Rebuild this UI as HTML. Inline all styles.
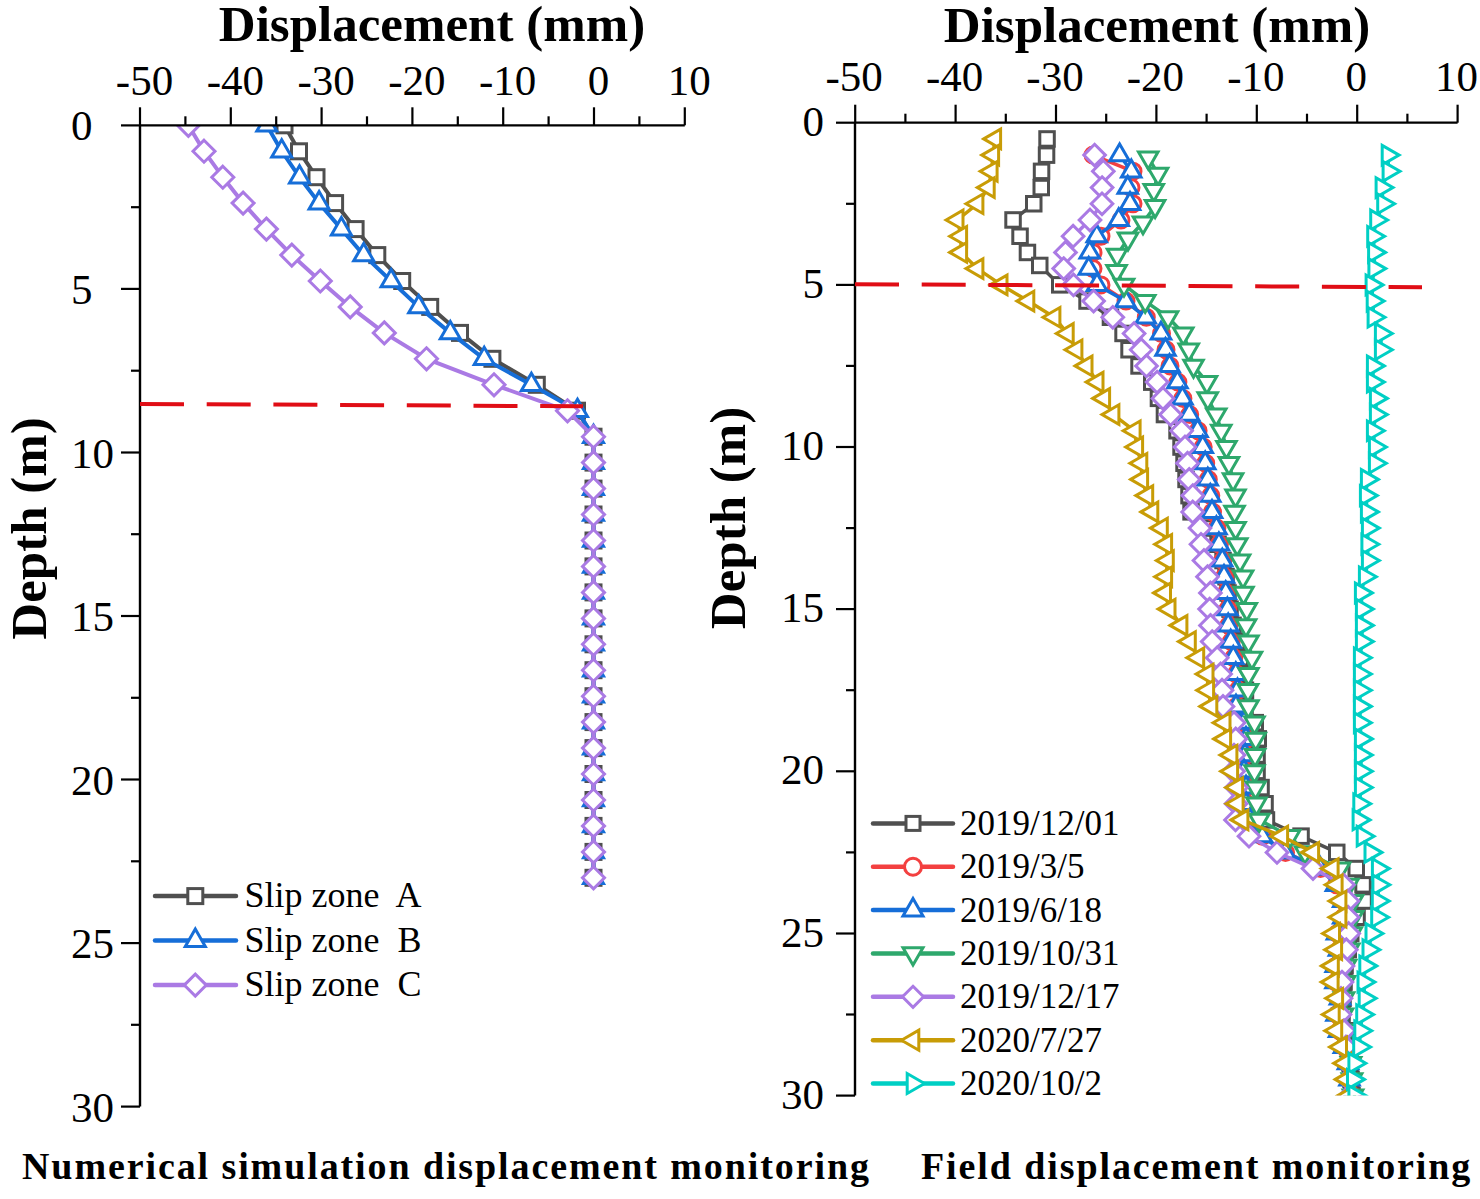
<!DOCTYPE html>
<html><head><meta charset="utf-8"><style>
html,body{margin:0;padding:0;background:#fff;}
svg{display:block;}
text{font-family:"Liberation Serif",serif;fill:#000;}
</style></head><body>
<svg width="1480" height="1199" viewBox="0 0 1480 1199">
<rect width="1480" height="1199" fill="#fff"/>
<defs><clipPath id="cl"><rect x="140" y="125.3" width="560" height="990"/></clipPath><clipPath id="cr"><rect x="855" y="122.7" width="610" height="972.9"/></clipPath></defs>
<g clip-path="url(#cl)"><path d="M284.5,125.3 L299.0,151.2 L316.5,177.2 L335.1,203.1 L355.6,229.1 L377.3,255.1 L402.2,281.0 L430.2,306.9 L460.0,332.9 L492.4,358.8 L536.8,384.8 L577.0,410.8 L593.5,436.7 L593.5,462.6 L593.5,488.6 L593.5,514.5 L593.5,540.5 L593.5,566.4 L593.5,592.4 L593.5,618.4 L593.5,644.3 L593.5,670.2 L593.5,696.2 L593.5,722.1 L593.5,748.1 L593.5,774.0 L593.5,800.0 L593.5,825.9 L593.5,851.9 L593.5,877.8" fill="none" stroke="#4f4f4f" stroke-width="4" stroke-linejoin="round" stroke-linecap="round"/>
<rect x="277.0" y="117.8" width="15" height="15" fill="#fff" stroke="#4f4f4f" stroke-width="3"/>
<rect x="291.5" y="143.8" width="15" height="15" fill="#fff" stroke="#4f4f4f" stroke-width="3"/>
<rect x="309.0" y="169.7" width="15" height="15" fill="#fff" stroke="#4f4f4f" stroke-width="3"/>
<rect x="327.6" y="195.6" width="15" height="15" fill="#fff" stroke="#4f4f4f" stroke-width="3"/>
<rect x="348.1" y="221.6" width="15" height="15" fill="#fff" stroke="#4f4f4f" stroke-width="3"/>
<rect x="369.8" y="247.6" width="15" height="15" fill="#fff" stroke="#4f4f4f" stroke-width="3"/>
<rect x="394.7" y="273.5" width="15" height="15" fill="#fff" stroke="#4f4f4f" stroke-width="3"/>
<rect x="422.7" y="299.4" width="15" height="15" fill="#fff" stroke="#4f4f4f" stroke-width="3"/>
<rect x="452.5" y="325.4" width="15" height="15" fill="#fff" stroke="#4f4f4f" stroke-width="3"/>
<rect x="484.9" y="351.3" width="15" height="15" fill="#fff" stroke="#4f4f4f" stroke-width="3"/>
<rect x="529.3" y="377.3" width="15" height="15" fill="#fff" stroke="#4f4f4f" stroke-width="3"/>
<rect x="569.5" y="403.2" width="15" height="15" fill="#fff" stroke="#4f4f4f" stroke-width="3"/>
<rect x="586.0" y="429.2" width="15" height="15" fill="#fff" stroke="#4f4f4f" stroke-width="3"/>
<rect x="586.0" y="455.1" width="15" height="15" fill="#fff" stroke="#4f4f4f" stroke-width="3"/>
<rect x="586.0" y="481.1" width="15" height="15" fill="#fff" stroke="#4f4f4f" stroke-width="3"/>
<rect x="586.0" y="507.0" width="15" height="15" fill="#fff" stroke="#4f4f4f" stroke-width="3"/>
<rect x="586.0" y="533.0" width="15" height="15" fill="#fff" stroke="#4f4f4f" stroke-width="3"/>
<rect x="586.0" y="558.9" width="15" height="15" fill="#fff" stroke="#4f4f4f" stroke-width="3"/>
<rect x="586.0" y="584.9" width="15" height="15" fill="#fff" stroke="#4f4f4f" stroke-width="3"/>
<rect x="586.0" y="610.9" width="15" height="15" fill="#fff" stroke="#4f4f4f" stroke-width="3"/>
<rect x="586.0" y="636.8" width="15" height="15" fill="#fff" stroke="#4f4f4f" stroke-width="3"/>
<rect x="586.0" y="662.7" width="15" height="15" fill="#fff" stroke="#4f4f4f" stroke-width="3"/>
<rect x="586.0" y="688.7" width="15" height="15" fill="#fff" stroke="#4f4f4f" stroke-width="3"/>
<rect x="586.0" y="714.6" width="15" height="15" fill="#fff" stroke="#4f4f4f" stroke-width="3"/>
<rect x="586.0" y="740.6" width="15" height="15" fill="#fff" stroke="#4f4f4f" stroke-width="3"/>
<rect x="586.0" y="766.5" width="15" height="15" fill="#fff" stroke="#4f4f4f" stroke-width="3"/>
<rect x="586.0" y="792.5" width="15" height="15" fill="#fff" stroke="#4f4f4f" stroke-width="3"/>
<rect x="586.0" y="818.4" width="15" height="15" fill="#fff" stroke="#4f4f4f" stroke-width="3"/>
<rect x="586.0" y="844.4" width="15" height="15" fill="#fff" stroke="#4f4f4f" stroke-width="3"/>
<rect x="586.0" y="870.3" width="15" height="15" fill="#fff" stroke="#4f4f4f" stroke-width="3"/>
<path d="M266.8,125.3 L281.7,151.2 L299.5,177.2 L319.1,203.1 L341.4,229.1 L363.7,255.1 L391.1,281.0 L418.7,306.9 L450.3,332.9 L484.2,358.8 L531.4,384.8 L577.5,410.8 L593.5,436.7 L593.5,462.6 L593.5,488.6 L593.5,514.5 L593.5,540.5 L593.5,566.4 L593.5,592.4 L593.5,618.4 L593.5,644.3 L593.5,670.2 L593.5,696.2 L593.5,722.1 L593.5,748.1 L593.5,774.0 L593.5,800.0 L593.5,825.9 L593.5,851.9 L593.5,877.8" fill="none" stroke="#166ed8" stroke-width="4" stroke-linejoin="round" stroke-linecap="round"/>
<polygon points="266.8,113.8 256.8,131.1 276.8,131.1" fill="#fff" stroke="#166ed8" stroke-width="3"/>
<polygon points="281.7,139.7 271.7,157.0 291.7,157.0" fill="#fff" stroke="#166ed8" stroke-width="3"/>
<polygon points="299.5,165.7 289.5,183.0 309.5,183.0" fill="#fff" stroke="#166ed8" stroke-width="3"/>
<polygon points="319.1,191.6 309.1,208.9 329.1,208.9" fill="#fff" stroke="#166ed8" stroke-width="3"/>
<polygon points="341.4,217.6 331.4,234.9 351.4,234.9" fill="#fff" stroke="#166ed8" stroke-width="3"/>
<polygon points="363.7,243.5 353.7,260.8 373.7,260.8" fill="#fff" stroke="#166ed8" stroke-width="3"/>
<polygon points="391.1,269.5 381.1,286.8 401.1,286.8" fill="#fff" stroke="#166ed8" stroke-width="3"/>
<polygon points="418.7,295.4 408.7,312.7 428.7,312.7" fill="#fff" stroke="#166ed8" stroke-width="3"/>
<polygon points="450.3,321.4 440.3,338.7 460.3,338.7" fill="#fff" stroke="#166ed8" stroke-width="3"/>
<polygon points="484.2,347.3 474.2,364.6 494.2,364.6" fill="#fff" stroke="#166ed8" stroke-width="3"/>
<polygon points="531.4,373.3 521.4,390.6 541.4,390.6" fill="#fff" stroke="#166ed8" stroke-width="3"/>
<polygon points="577.5,399.2 567.5,416.5 587.5,416.5" fill="#fff" stroke="#166ed8" stroke-width="3"/>
<polygon points="593.5,425.2 583.5,442.5 603.5,442.5" fill="#fff" stroke="#166ed8" stroke-width="3"/>
<polygon points="593.5,451.1 583.5,468.4 603.5,468.4" fill="#fff" stroke="#166ed8" stroke-width="3"/>
<polygon points="593.5,477.1 583.5,494.4 603.5,494.4" fill="#fff" stroke="#166ed8" stroke-width="3"/>
<polygon points="593.5,503.0 583.5,520.3 603.5,520.3" fill="#fff" stroke="#166ed8" stroke-width="3"/>
<polygon points="593.5,529.0 583.5,546.3 603.5,546.3" fill="#fff" stroke="#166ed8" stroke-width="3"/>
<polygon points="593.5,554.9 583.5,572.2 603.5,572.2" fill="#fff" stroke="#166ed8" stroke-width="3"/>
<polygon points="593.5,580.9 583.5,598.2 603.5,598.2" fill="#fff" stroke="#166ed8" stroke-width="3"/>
<polygon points="593.5,606.8 583.5,624.1 603.5,624.1" fill="#fff" stroke="#166ed8" stroke-width="3"/>
<polygon points="593.5,632.8 583.5,650.1 603.5,650.1" fill="#fff" stroke="#166ed8" stroke-width="3"/>
<polygon points="593.5,658.7 583.5,676.0 603.5,676.0" fill="#fff" stroke="#166ed8" stroke-width="3"/>
<polygon points="593.5,684.7 583.5,702.0 603.5,702.0" fill="#fff" stroke="#166ed8" stroke-width="3"/>
<polygon points="593.5,710.6 583.5,727.9 603.5,727.9" fill="#fff" stroke="#166ed8" stroke-width="3"/>
<polygon points="593.5,736.6 583.5,753.9 603.5,753.9" fill="#fff" stroke="#166ed8" stroke-width="3"/>
<polygon points="593.5,762.5 583.5,779.8 603.5,779.8" fill="#fff" stroke="#166ed8" stroke-width="3"/>
<polygon points="593.5,788.5 583.5,805.8 603.5,805.8" fill="#fff" stroke="#166ed8" stroke-width="3"/>
<polygon points="593.5,814.4 583.5,831.7 603.5,831.7" fill="#fff" stroke="#166ed8" stroke-width="3"/>
<polygon points="593.5,840.4 583.5,857.7 603.5,857.7" fill="#fff" stroke="#166ed8" stroke-width="3"/>
<polygon points="593.5,866.3 583.5,883.6 603.5,883.6" fill="#fff" stroke="#166ed8" stroke-width="3"/>
<path d="M188.4,125.3 L204.0,151.2 L222.8,177.2 L243.1,203.1 L266.4,229.1 L291.8,255.1 L320.3,281.0 L350.2,306.9 L384.3,332.9 L426.5,358.8 L494.0,384.8 L567.5,410.8 L593.5,436.7 L593.5,462.6 L593.5,488.6 L593.5,514.5 L593.5,540.5 L593.5,566.4 L593.5,592.4 L593.5,618.4 L593.5,644.3 L593.5,670.2 L593.5,696.2 L593.5,722.1 L593.5,748.1 L593.5,774.0 L593.5,800.0 L593.5,825.9 L593.5,851.9 L593.5,877.8" fill="none" stroke="#aa7ae4" stroke-width="4" stroke-linejoin="round" stroke-linecap="round"/>
<polygon points="188.4,114.3 199.4,125.3 188.4,136.3 177.4,125.3" fill="#fff" stroke="#aa7ae4" stroke-width="3"/>
<polygon points="204.0,140.2 215.0,151.2 204.0,162.2 193.0,151.2" fill="#fff" stroke="#aa7ae4" stroke-width="3"/>
<polygon points="222.8,166.2 233.8,177.2 222.8,188.2 211.8,177.2" fill="#fff" stroke="#aa7ae4" stroke-width="3"/>
<polygon points="243.1,192.1 254.1,203.1 243.1,214.1 232.1,203.1" fill="#fff" stroke="#aa7ae4" stroke-width="3"/>
<polygon points="266.4,218.1 277.4,229.1 266.4,240.1 255.4,229.1" fill="#fff" stroke="#aa7ae4" stroke-width="3"/>
<polygon points="291.8,244.1 302.8,255.1 291.8,266.1 280.8,255.1" fill="#fff" stroke="#aa7ae4" stroke-width="3"/>
<polygon points="320.3,270.0 331.3,281.0 320.3,292.0 309.3,281.0" fill="#fff" stroke="#aa7ae4" stroke-width="3"/>
<polygon points="350.2,295.9 361.2,306.9 350.2,317.9 339.2,306.9" fill="#fff" stroke="#aa7ae4" stroke-width="3"/>
<polygon points="384.3,321.9 395.3,332.9 384.3,343.9 373.3,332.9" fill="#fff" stroke="#aa7ae4" stroke-width="3"/>
<polygon points="426.5,347.8 437.5,358.8 426.5,369.8 415.5,358.8" fill="#fff" stroke="#aa7ae4" stroke-width="3"/>
<polygon points="494.0,373.8 505.0,384.8 494.0,395.8 483.0,384.8" fill="#fff" stroke="#aa7ae4" stroke-width="3"/>
<polygon points="567.5,399.8 578.5,410.8 567.5,421.8 556.5,410.8" fill="#fff" stroke="#aa7ae4" stroke-width="3"/>
<polygon points="593.5,425.7 604.5,436.7 593.5,447.7 582.5,436.7" fill="#fff" stroke="#aa7ae4" stroke-width="3"/>
<polygon points="593.5,451.6 604.5,462.6 593.5,473.6 582.5,462.6" fill="#fff" stroke="#aa7ae4" stroke-width="3"/>
<polygon points="593.5,477.6 604.5,488.6 593.5,499.6 582.5,488.6" fill="#fff" stroke="#aa7ae4" stroke-width="3"/>
<polygon points="593.5,503.5 604.5,514.5 593.5,525.5 582.5,514.5" fill="#fff" stroke="#aa7ae4" stroke-width="3"/>
<polygon points="593.5,529.5 604.5,540.5 593.5,551.5 582.5,540.5" fill="#fff" stroke="#aa7ae4" stroke-width="3"/>
<polygon points="593.5,555.4 604.5,566.4 593.5,577.4 582.5,566.4" fill="#fff" stroke="#aa7ae4" stroke-width="3"/>
<polygon points="593.5,581.4 604.5,592.4 593.5,603.4 582.5,592.4" fill="#fff" stroke="#aa7ae4" stroke-width="3"/>
<polygon points="593.5,607.4 604.5,618.4 593.5,629.4 582.5,618.4" fill="#fff" stroke="#aa7ae4" stroke-width="3"/>
<polygon points="593.5,633.3 604.5,644.3 593.5,655.3 582.5,644.3" fill="#fff" stroke="#aa7ae4" stroke-width="3"/>
<polygon points="593.5,659.2 604.5,670.2 593.5,681.2 582.5,670.2" fill="#fff" stroke="#aa7ae4" stroke-width="3"/>
<polygon points="593.5,685.2 604.5,696.2 593.5,707.2 582.5,696.2" fill="#fff" stroke="#aa7ae4" stroke-width="3"/>
<polygon points="593.5,711.1 604.5,722.1 593.5,733.1 582.5,722.1" fill="#fff" stroke="#aa7ae4" stroke-width="3"/>
<polygon points="593.5,737.1 604.5,748.1 593.5,759.1 582.5,748.1" fill="#fff" stroke="#aa7ae4" stroke-width="3"/>
<polygon points="593.5,763.0 604.5,774.0 593.5,785.0 582.5,774.0" fill="#fff" stroke="#aa7ae4" stroke-width="3"/>
<polygon points="593.5,789.0 604.5,800.0 593.5,811.0 582.5,800.0" fill="#fff" stroke="#aa7ae4" stroke-width="3"/>
<polygon points="593.5,814.9 604.5,825.9 593.5,836.9 582.5,825.9" fill="#fff" stroke="#aa7ae4" stroke-width="3"/>
<polygon points="593.5,840.9 604.5,851.9 593.5,862.9 582.5,851.9" fill="#fff" stroke="#aa7ae4" stroke-width="3"/>
<polygon points="593.5,866.8 604.5,877.8 593.5,888.8 582.5,877.8" fill="#fff" stroke="#aa7ae4" stroke-width="3"/></g>
<g clip-path="url(#cr)"><path d="M1047.0,138.9 L1046.6,155.1 L1041.6,171.3 L1041.3,187.6 L1033.8,203.8 L1013.0,220.0 L1020.0,236.2 L1027.5,252.4 L1039.8,265.5 L1059.7,284.9 L1087.0,301.1 L1110.5,317.3 L1123.0,333.5 L1129.0,349.7 L1139.0,365.9 L1151.7,382.1 L1158.5,398.4 L1164.4,414.6 L1177.0,430.8 L1181.0,447.0 L1184.0,463.2 L1186.0,479.4 L1189.0,495.6 L1191.0,511.9 L1205.0,528.1 L1218.0,544.3 L1223.0,560.5 L1226.0,576.7 L1228.0,592.9 L1230.0,609.1 L1233.0,625.4 L1236.7,641.6 L1240.3,657.8 L1243.8,674.0 L1245.5,690.2 L1245.0,706.4 L1255.3,722.7 L1258.2,738.9 L1257.0,755.1 L1257.0,771.3 L1261.0,787.5 L1265.0,803.7 L1266.4,819.9 L1301.0,836.2 L1336.8,852.4 L1356.2,868.6 L1363.0,884.8 L1364.0,901.0 L1357.0,917.2 L1350.7,933.5 L1348.3,949.7 L1345.0,965.9 L1344.0,982.1 L1343.0,998.3 L1342.0,1014.5 L1346.0,1030.7 L1348.0,1047.0 L1350.0,1063.2 L1351.0,1079.4 L1352.0,1095.6" fill="none" stroke="#4f4f4f" stroke-width="3.5" stroke-linejoin="round" stroke-linecap="round"/>
<rect x="1039.8" y="131.7" width="14.5" height="14.5" fill="#fff" stroke="#4f4f4f" stroke-width="3"/>
<rect x="1039.3" y="147.9" width="14.5" height="14.5" fill="#fff" stroke="#4f4f4f" stroke-width="3"/>
<rect x="1034.3" y="164.1" width="14.5" height="14.5" fill="#fff" stroke="#4f4f4f" stroke-width="3"/>
<rect x="1034.0" y="180.3" width="14.5" height="14.5" fill="#fff" stroke="#4f4f4f" stroke-width="3"/>
<rect x="1026.5" y="196.5" width="14.5" height="14.5" fill="#fff" stroke="#4f4f4f" stroke-width="3"/>
<rect x="1005.8" y="212.7" width="14.5" height="14.5" fill="#fff" stroke="#4f4f4f" stroke-width="3"/>
<rect x="1012.8" y="229.0" width="14.5" height="14.5" fill="#fff" stroke="#4f4f4f" stroke-width="3"/>
<rect x="1020.2" y="245.2" width="14.5" height="14.5" fill="#fff" stroke="#4f4f4f" stroke-width="3"/>
<rect x="1032.5" y="258.2" width="14.5" height="14.5" fill="#fff" stroke="#4f4f4f" stroke-width="3"/>
<rect x="1052.5" y="277.6" width="14.5" height="14.5" fill="#fff" stroke="#4f4f4f" stroke-width="3"/>
<rect x="1079.8" y="293.8" width="14.5" height="14.5" fill="#fff" stroke="#4f4f4f" stroke-width="3"/>
<rect x="1103.2" y="310.0" width="14.5" height="14.5" fill="#fff" stroke="#4f4f4f" stroke-width="3"/>
<rect x="1115.8" y="326.2" width="14.5" height="14.5" fill="#fff" stroke="#4f4f4f" stroke-width="3"/>
<rect x="1121.8" y="342.5" width="14.5" height="14.5" fill="#fff" stroke="#4f4f4f" stroke-width="3"/>
<rect x="1131.8" y="358.7" width="14.5" height="14.5" fill="#fff" stroke="#4f4f4f" stroke-width="3"/>
<rect x="1144.5" y="374.9" width="14.5" height="14.5" fill="#fff" stroke="#4f4f4f" stroke-width="3"/>
<rect x="1151.2" y="391.1" width="14.5" height="14.5" fill="#fff" stroke="#4f4f4f" stroke-width="3"/>
<rect x="1157.2" y="407.3" width="14.5" height="14.5" fill="#fff" stroke="#4f4f4f" stroke-width="3"/>
<rect x="1169.8" y="423.5" width="14.5" height="14.5" fill="#fff" stroke="#4f4f4f" stroke-width="3"/>
<rect x="1173.8" y="439.8" width="14.5" height="14.5" fill="#fff" stroke="#4f4f4f" stroke-width="3"/>
<rect x="1176.8" y="456.0" width="14.5" height="14.5" fill="#fff" stroke="#4f4f4f" stroke-width="3"/>
<rect x="1178.8" y="472.2" width="14.5" height="14.5" fill="#fff" stroke="#4f4f4f" stroke-width="3"/>
<rect x="1181.8" y="488.4" width="14.5" height="14.5" fill="#fff" stroke="#4f4f4f" stroke-width="3"/>
<rect x="1183.8" y="504.6" width="14.5" height="14.5" fill="#fff" stroke="#4f4f4f" stroke-width="3"/>
<rect x="1197.8" y="520.8" width="14.5" height="14.5" fill="#fff" stroke="#4f4f4f" stroke-width="3"/>
<rect x="1210.8" y="537.0" width="14.5" height="14.5" fill="#fff" stroke="#4f4f4f" stroke-width="3"/>
<rect x="1215.8" y="553.3" width="14.5" height="14.5" fill="#fff" stroke="#4f4f4f" stroke-width="3"/>
<rect x="1218.8" y="569.5" width="14.5" height="14.5" fill="#fff" stroke="#4f4f4f" stroke-width="3"/>
<rect x="1220.8" y="585.7" width="14.5" height="14.5" fill="#fff" stroke="#4f4f4f" stroke-width="3"/>
<rect x="1222.8" y="601.9" width="14.5" height="14.5" fill="#fff" stroke="#4f4f4f" stroke-width="3"/>
<rect x="1225.8" y="618.1" width="14.5" height="14.5" fill="#fff" stroke="#4f4f4f" stroke-width="3"/>
<rect x="1229.5" y="634.3" width="14.5" height="14.5" fill="#fff" stroke="#4f4f4f" stroke-width="3"/>
<rect x="1233.0" y="650.5" width="14.5" height="14.5" fill="#fff" stroke="#4f4f4f" stroke-width="3"/>
<rect x="1236.5" y="666.8" width="14.5" height="14.5" fill="#fff" stroke="#4f4f4f" stroke-width="3"/>
<rect x="1238.2" y="683.0" width="14.5" height="14.5" fill="#fff" stroke="#4f4f4f" stroke-width="3"/>
<rect x="1237.8" y="699.2" width="14.5" height="14.5" fill="#fff" stroke="#4f4f4f" stroke-width="3"/>
<rect x="1248.0" y="715.4" width="14.5" height="14.5" fill="#fff" stroke="#4f4f4f" stroke-width="3"/>
<rect x="1251.0" y="731.6" width="14.5" height="14.5" fill="#fff" stroke="#4f4f4f" stroke-width="3"/>
<rect x="1249.8" y="747.8" width="14.5" height="14.5" fill="#fff" stroke="#4f4f4f" stroke-width="3"/>
<rect x="1249.8" y="764.1" width="14.5" height="14.5" fill="#fff" stroke="#4f4f4f" stroke-width="3"/>
<rect x="1253.8" y="780.3" width="14.5" height="14.5" fill="#fff" stroke="#4f4f4f" stroke-width="3"/>
<rect x="1257.8" y="796.5" width="14.5" height="14.5" fill="#fff" stroke="#4f4f4f" stroke-width="3"/>
<rect x="1259.2" y="812.7" width="14.5" height="14.5" fill="#fff" stroke="#4f4f4f" stroke-width="3"/>
<rect x="1293.8" y="828.9" width="14.5" height="14.5" fill="#fff" stroke="#4f4f4f" stroke-width="3"/>
<rect x="1329.5" y="845.1" width="14.5" height="14.5" fill="#fff" stroke="#4f4f4f" stroke-width="3"/>
<rect x="1349.0" y="861.3" width="14.5" height="14.5" fill="#fff" stroke="#4f4f4f" stroke-width="3"/>
<rect x="1355.8" y="877.6" width="14.5" height="14.5" fill="#fff" stroke="#4f4f4f" stroke-width="3"/>
<rect x="1356.8" y="893.8" width="14.5" height="14.5" fill="#fff" stroke="#4f4f4f" stroke-width="3"/>
<rect x="1349.8" y="910.0" width="14.5" height="14.5" fill="#fff" stroke="#4f4f4f" stroke-width="3"/>
<rect x="1343.5" y="926.2" width="14.5" height="14.5" fill="#fff" stroke="#4f4f4f" stroke-width="3"/>
<rect x="1341.0" y="942.4" width="14.5" height="14.5" fill="#fff" stroke="#4f4f4f" stroke-width="3"/>
<rect x="1337.8" y="958.6" width="14.5" height="14.5" fill="#fff" stroke="#4f4f4f" stroke-width="3"/>
<rect x="1336.8" y="974.8" width="14.5" height="14.5" fill="#fff" stroke="#4f4f4f" stroke-width="3"/>
<rect x="1335.8" y="991.1" width="14.5" height="14.5" fill="#fff" stroke="#4f4f4f" stroke-width="3"/>
<rect x="1334.8" y="1007.3" width="14.5" height="14.5" fill="#fff" stroke="#4f4f4f" stroke-width="3"/>
<rect x="1338.8" y="1023.5" width="14.5" height="14.5" fill="#fff" stroke="#4f4f4f" stroke-width="3"/>
<rect x="1340.8" y="1039.7" width="14.5" height="14.5" fill="#fff" stroke="#4f4f4f" stroke-width="3"/>
<rect x="1342.8" y="1055.9" width="14.5" height="14.5" fill="#fff" stroke="#4f4f4f" stroke-width="3"/>
<rect x="1343.8" y="1072.1" width="14.5" height="14.5" fill="#fff" stroke="#4f4f4f" stroke-width="3"/>
<rect x="1344.8" y="1088.3" width="14.5" height="14.5" fill="#fff" stroke="#4f4f4f" stroke-width="3"/>
<path d="M1093.0,155.1 L1133.0,171.3 L1131.0,187.6 L1133.0,203.8 L1121.0,220.0 L1101.0,236.2 L1093.0,252.4 L1093.0,268.6 L1101.0,284.9 L1126.0,301.1 L1146.3,317.3 L1161.5,333.5 L1166.0,349.7 L1170.0,365.9 L1177.9,382.1 L1182.9,398.4 L1189.7,414.6 L1198.1,430.8 L1203.2,447.0 L1205.7,463.2 L1208.3,479.4 L1210.8,495.6 L1212.5,511.9 L1216.9,528.1 L1219.4,544.3 L1222.8,560.5 L1224.5,576.7 L1226.2,592.9 L1227.9,609.1 L1228.7,625.4 L1231.2,641.6 L1233.8,657.8 L1236.3,674.0 L1238.0,690.2 L1236.5,706.4 L1244.5,722.7 L1246.5,738.9 L1245.5,755.1 L1244.5,771.3 L1246.5,787.5 L1246.5,803.7 L1250.5,819.9 L1262.5,836.2 L1285.5,852.4 L1320.5,868.6 L1336.5,884.8 L1343.8,901.0 L1343.8,917.2 L1337.4,933.5 L1339.5,949.7 L1336.2,965.9 L1336.0,982.1 L1340.5,998.3 L1337.1,1014.5 L1339.6,1030.7 L1344.4,1047.0 L1348.5,1063.2 L1350.0,1079.4 L1352.5,1095.6" fill="none" stroke="#f34040" stroke-width="3.5" stroke-linejoin="round" stroke-linecap="round"/>
<circle cx="1093.0" cy="155.1" r="8" fill="#fff" stroke="#f34040" stroke-width="3"/>
<circle cx="1133.0" cy="171.3" r="8" fill="#fff" stroke="#f34040" stroke-width="3"/>
<circle cx="1131.0" cy="187.6" r="8" fill="#fff" stroke="#f34040" stroke-width="3"/>
<circle cx="1133.0" cy="203.8" r="8" fill="#fff" stroke="#f34040" stroke-width="3"/>
<circle cx="1121.0" cy="220.0" r="8" fill="#fff" stroke="#f34040" stroke-width="3"/>
<circle cx="1101.0" cy="236.2" r="8" fill="#fff" stroke="#f34040" stroke-width="3"/>
<circle cx="1093.0" cy="252.4" r="8" fill="#fff" stroke="#f34040" stroke-width="3"/>
<circle cx="1093.0" cy="268.6" r="8" fill="#fff" stroke="#f34040" stroke-width="3"/>
<circle cx="1101.0" cy="284.9" r="8" fill="#fff" stroke="#f34040" stroke-width="3"/>
<circle cx="1126.0" cy="301.1" r="8" fill="#fff" stroke="#f34040" stroke-width="3"/>
<circle cx="1146.3" cy="317.3" r="8" fill="#fff" stroke="#f34040" stroke-width="3"/>
<circle cx="1161.5" cy="333.5" r="8" fill="#fff" stroke="#f34040" stroke-width="3"/>
<circle cx="1166.0" cy="349.7" r="8" fill="#fff" stroke="#f34040" stroke-width="3"/>
<circle cx="1170.0" cy="365.9" r="8" fill="#fff" stroke="#f34040" stroke-width="3"/>
<circle cx="1177.9" cy="382.1" r="8" fill="#fff" stroke="#f34040" stroke-width="3"/>
<circle cx="1182.9" cy="398.4" r="8" fill="#fff" stroke="#f34040" stroke-width="3"/>
<circle cx="1189.7" cy="414.6" r="8" fill="#fff" stroke="#f34040" stroke-width="3"/>
<circle cx="1198.1" cy="430.8" r="8" fill="#fff" stroke="#f34040" stroke-width="3"/>
<circle cx="1203.2" cy="447.0" r="8" fill="#fff" stroke="#f34040" stroke-width="3"/>
<circle cx="1205.7" cy="463.2" r="8" fill="#fff" stroke="#f34040" stroke-width="3"/>
<circle cx="1208.3" cy="479.4" r="8" fill="#fff" stroke="#f34040" stroke-width="3"/>
<circle cx="1210.8" cy="495.6" r="8" fill="#fff" stroke="#f34040" stroke-width="3"/>
<circle cx="1212.5" cy="511.9" r="8" fill="#fff" stroke="#f34040" stroke-width="3"/>
<circle cx="1216.9" cy="528.1" r="8" fill="#fff" stroke="#f34040" stroke-width="3"/>
<circle cx="1219.4" cy="544.3" r="8" fill="#fff" stroke="#f34040" stroke-width="3"/>
<circle cx="1222.8" cy="560.5" r="8" fill="#fff" stroke="#f34040" stroke-width="3"/>
<circle cx="1224.5" cy="576.7" r="8" fill="#fff" stroke="#f34040" stroke-width="3"/>
<circle cx="1226.2" cy="592.9" r="8" fill="#fff" stroke="#f34040" stroke-width="3"/>
<circle cx="1227.9" cy="609.1" r="8" fill="#fff" stroke="#f34040" stroke-width="3"/>
<circle cx="1228.7" cy="625.4" r="8" fill="#fff" stroke="#f34040" stroke-width="3"/>
<circle cx="1231.2" cy="641.6" r="8" fill="#fff" stroke="#f34040" stroke-width="3"/>
<circle cx="1233.8" cy="657.8" r="8" fill="#fff" stroke="#f34040" stroke-width="3"/>
<circle cx="1236.3" cy="674.0" r="8" fill="#fff" stroke="#f34040" stroke-width="3"/>
<circle cx="1238.0" cy="690.2" r="8" fill="#fff" stroke="#f34040" stroke-width="3"/>
<circle cx="1236.5" cy="706.4" r="8" fill="#fff" stroke="#f34040" stroke-width="3"/>
<circle cx="1244.5" cy="722.7" r="8" fill="#fff" stroke="#f34040" stroke-width="3"/>
<circle cx="1246.5" cy="738.9" r="8" fill="#fff" stroke="#f34040" stroke-width="3"/>
<circle cx="1245.5" cy="755.1" r="8" fill="#fff" stroke="#f34040" stroke-width="3"/>
<circle cx="1244.5" cy="771.3" r="8" fill="#fff" stroke="#f34040" stroke-width="3"/>
<circle cx="1246.5" cy="787.5" r="8" fill="#fff" stroke="#f34040" stroke-width="3"/>
<circle cx="1246.5" cy="803.7" r="8" fill="#fff" stroke="#f34040" stroke-width="3"/>
<circle cx="1250.5" cy="819.9" r="8" fill="#fff" stroke="#f34040" stroke-width="3"/>
<circle cx="1262.5" cy="836.2" r="8" fill="#fff" stroke="#f34040" stroke-width="3"/>
<circle cx="1285.5" cy="852.4" r="8" fill="#fff" stroke="#f34040" stroke-width="3"/>
<circle cx="1320.5" cy="868.6" r="8" fill="#fff" stroke="#f34040" stroke-width="3"/>
<circle cx="1336.5" cy="884.8" r="8" fill="#fff" stroke="#f34040" stroke-width="3"/>
<circle cx="1343.8" cy="901.0" r="8" fill="#fff" stroke="#f34040" stroke-width="3"/>
<circle cx="1343.8" cy="917.2" r="8" fill="#fff" stroke="#f34040" stroke-width="3"/>
<circle cx="1337.4" cy="933.5" r="8" fill="#fff" stroke="#f34040" stroke-width="3"/>
<circle cx="1339.5" cy="949.7" r="8" fill="#fff" stroke="#f34040" stroke-width="3"/>
<circle cx="1336.2" cy="965.9" r="8" fill="#fff" stroke="#f34040" stroke-width="3"/>
<circle cx="1336.0" cy="982.1" r="8" fill="#fff" stroke="#f34040" stroke-width="3"/>
<circle cx="1340.5" cy="998.3" r="8" fill="#fff" stroke="#f34040" stroke-width="3"/>
<circle cx="1337.1" cy="1014.5" r="8" fill="#fff" stroke="#f34040" stroke-width="3"/>
<circle cx="1339.6" cy="1030.7" r="8" fill="#fff" stroke="#f34040" stroke-width="3"/>
<circle cx="1344.4" cy="1047.0" r="8" fill="#fff" stroke="#f34040" stroke-width="3"/>
<circle cx="1348.5" cy="1063.2" r="8" fill="#fff" stroke="#f34040" stroke-width="3"/>
<circle cx="1350.0" cy="1079.4" r="8" fill="#fff" stroke="#f34040" stroke-width="3"/>
<circle cx="1352.5" cy="1095.6" r="8" fill="#fff" stroke="#f34040" stroke-width="3"/>
<path d="M1119.6,155.1 L1131.3,171.3 L1127.7,187.6 L1130.0,203.8 L1118.7,220.0 L1096.8,236.2 L1089.7,252.4 L1088.7,268.6 L1097.0,284.9 L1125.5,301.1 L1145.8,317.3 L1161.0,333.5 L1165.5,349.7 L1169.5,365.9 L1177.4,382.1 L1182.4,398.4 L1189.2,414.6 L1197.6,430.8 L1202.7,447.0 L1205.2,463.2 L1207.8,479.4 L1210.3,495.6 L1212.0,511.9 L1216.4,528.1 L1218.9,544.3 L1222.3,560.5 L1224.0,576.7 L1225.7,592.9 L1227.4,609.1 L1228.2,625.4 L1230.7,641.6 L1233.3,657.8 L1235.8,674.0 L1237.5,690.2 L1236.0,706.4 L1244.0,722.7 L1246.0,738.9 L1245.0,755.1 L1244.0,771.3 L1246.0,787.5 L1246.0,803.7 L1250.0,819.9 L1262.0,836.2 L1285.0,852.4 L1320.0,868.6 L1336.0,884.8 L1343.3,901.0 L1343.3,917.2 L1336.9,933.5 L1339.0,949.7 L1335.7,965.9 L1335.5,982.1 L1340.0,998.3 L1336.6,1014.5 L1339.1,1030.7 L1343.9,1047.0 L1348.0,1063.2 L1349.5,1079.4 L1352.0,1095.6" fill="none" stroke="#166ed8" stroke-width="3.5" stroke-linejoin="round" stroke-linecap="round"/>
<polygon points="1119.6,143.9 1109.8,160.8 1129.3,160.8" fill="#fff" stroke="#166ed8" stroke-width="3"/>
<polygon points="1131.3,160.1 1121.5,177.0 1141.0,177.0" fill="#fff" stroke="#166ed8" stroke-width="3"/>
<polygon points="1127.7,176.3 1118.0,193.2 1137.5,193.2" fill="#fff" stroke="#166ed8" stroke-width="3"/>
<polygon points="1130.0,192.5 1120.2,209.4 1139.8,209.4" fill="#fff" stroke="#166ed8" stroke-width="3"/>
<polygon points="1118.7,208.7 1109.0,225.6 1128.5,225.6" fill="#fff" stroke="#166ed8" stroke-width="3"/>
<polygon points="1096.8,224.9 1087.0,241.8 1106.5,241.8" fill="#fff" stroke="#166ed8" stroke-width="3"/>
<polygon points="1089.7,241.2 1080.0,258.0 1099.5,258.0" fill="#fff" stroke="#166ed8" stroke-width="3"/>
<polygon points="1088.7,257.4 1079.0,274.3 1098.5,274.3" fill="#fff" stroke="#166ed8" stroke-width="3"/>
<polygon points="1097.0,273.6 1087.2,290.5 1106.8,290.5" fill="#fff" stroke="#166ed8" stroke-width="3"/>
<polygon points="1125.5,289.8 1115.8,306.7 1135.2,306.7" fill="#fff" stroke="#166ed8" stroke-width="3"/>
<polygon points="1145.8,306.0 1136.0,322.9 1155.5,322.9" fill="#fff" stroke="#166ed8" stroke-width="3"/>
<polygon points="1161.0,322.2 1151.2,339.1 1170.8,339.1" fill="#fff" stroke="#166ed8" stroke-width="3"/>
<polygon points="1165.5,338.5 1155.8,355.3 1175.2,355.3" fill="#fff" stroke="#166ed8" stroke-width="3"/>
<polygon points="1169.5,354.7 1159.8,371.6 1179.2,371.6" fill="#fff" stroke="#166ed8" stroke-width="3"/>
<polygon points="1177.4,370.9 1167.7,387.8 1187.2,387.8" fill="#fff" stroke="#166ed8" stroke-width="3"/>
<polygon points="1182.4,387.1 1172.7,404.0 1192.2,404.0" fill="#fff" stroke="#166ed8" stroke-width="3"/>
<polygon points="1189.2,403.3 1179.5,420.2 1199.0,420.2" fill="#fff" stroke="#166ed8" stroke-width="3"/>
<polygon points="1197.6,419.5 1187.8,436.4 1207.3,436.4" fill="#fff" stroke="#166ed8" stroke-width="3"/>
<polygon points="1202.7,435.7 1193.0,452.6 1212.5,452.6" fill="#fff" stroke="#166ed8" stroke-width="3"/>
<polygon points="1205.2,452.0 1195.5,468.8 1215.0,468.8" fill="#fff" stroke="#166ed8" stroke-width="3"/>
<polygon points="1207.8,468.2 1198.0,485.1 1217.5,485.1" fill="#fff" stroke="#166ed8" stroke-width="3"/>
<polygon points="1210.3,484.4 1200.5,501.3 1220.0,501.3" fill="#fff" stroke="#166ed8" stroke-width="3"/>
<polygon points="1212.0,500.6 1202.2,517.5 1221.8,517.5" fill="#fff" stroke="#166ed8" stroke-width="3"/>
<polygon points="1216.4,516.8 1206.7,533.7 1226.2,533.7" fill="#fff" stroke="#166ed8" stroke-width="3"/>
<polygon points="1218.9,533.0 1209.2,549.9 1228.7,549.9" fill="#fff" stroke="#166ed8" stroke-width="3"/>
<polygon points="1222.3,549.2 1212.5,566.1 1232.0,566.1" fill="#fff" stroke="#166ed8" stroke-width="3"/>
<polygon points="1224.0,565.5 1214.2,582.3 1233.8,582.3" fill="#fff" stroke="#166ed8" stroke-width="3"/>
<polygon points="1225.7,581.7 1216.0,598.6 1235.5,598.6" fill="#fff" stroke="#166ed8" stroke-width="3"/>
<polygon points="1227.4,597.9 1217.7,614.8 1237.2,614.8" fill="#fff" stroke="#166ed8" stroke-width="3"/>
<polygon points="1228.2,614.1 1218.5,631.0 1238.0,631.0" fill="#fff" stroke="#166ed8" stroke-width="3"/>
<polygon points="1230.7,630.3 1221.0,647.2 1240.5,647.2" fill="#fff" stroke="#166ed8" stroke-width="3"/>
<polygon points="1233.3,646.5 1223.5,663.4 1243.0,663.4" fill="#fff" stroke="#166ed8" stroke-width="3"/>
<polygon points="1235.8,662.8 1226.0,679.6 1245.5,679.6" fill="#fff" stroke="#166ed8" stroke-width="3"/>
<polygon points="1237.5,679.0 1227.8,695.9 1247.2,695.9" fill="#fff" stroke="#166ed8" stroke-width="3"/>
<polygon points="1236.0,695.2 1226.2,712.1 1245.8,712.1" fill="#fff" stroke="#166ed8" stroke-width="3"/>
<polygon points="1244.0,711.4 1234.2,728.3 1253.8,728.3" fill="#fff" stroke="#166ed8" stroke-width="3"/>
<polygon points="1246.0,727.6 1236.2,744.5 1255.8,744.5" fill="#fff" stroke="#166ed8" stroke-width="3"/>
<polygon points="1245.0,743.8 1235.2,760.7 1254.8,760.7" fill="#fff" stroke="#166ed8" stroke-width="3"/>
<polygon points="1244.0,760.0 1234.2,776.9 1253.8,776.9" fill="#fff" stroke="#166ed8" stroke-width="3"/>
<polygon points="1246.0,776.3 1236.2,793.1 1255.8,793.1" fill="#fff" stroke="#166ed8" stroke-width="3"/>
<polygon points="1246.0,792.5 1236.2,809.4 1255.8,809.4" fill="#fff" stroke="#166ed8" stroke-width="3"/>
<polygon points="1250.0,808.7 1240.2,825.6 1259.8,825.6" fill="#fff" stroke="#166ed8" stroke-width="3"/>
<polygon points="1262.0,824.9 1252.2,841.8 1271.8,841.8" fill="#fff" stroke="#166ed8" stroke-width="3"/>
<polygon points="1285.0,841.1 1275.2,858.0 1294.8,858.0" fill="#fff" stroke="#166ed8" stroke-width="3"/>
<polygon points="1320.0,857.3 1310.2,874.2 1329.8,874.2" fill="#fff" stroke="#166ed8" stroke-width="3"/>
<polygon points="1336.0,873.5 1326.2,890.4 1345.8,890.4" fill="#fff" stroke="#166ed8" stroke-width="3"/>
<polygon points="1343.3,889.8 1333.5,906.6 1353.0,906.6" fill="#fff" stroke="#166ed8" stroke-width="3"/>
<polygon points="1343.3,906.0 1333.5,922.9 1353.0,922.9" fill="#fff" stroke="#166ed8" stroke-width="3"/>
<polygon points="1336.9,922.2 1327.2,939.1 1346.7,939.1" fill="#fff" stroke="#166ed8" stroke-width="3"/>
<polygon points="1339.0,938.4 1329.2,955.3 1348.8,955.3" fill="#fff" stroke="#166ed8" stroke-width="3"/>
<polygon points="1335.7,954.6 1326.0,971.5 1345.5,971.5" fill="#fff" stroke="#166ed8" stroke-width="3"/>
<polygon points="1335.5,970.8 1325.8,987.7 1345.2,987.7" fill="#fff" stroke="#166ed8" stroke-width="3"/>
<polygon points="1340.0,987.1 1330.2,1003.9 1349.8,1003.9" fill="#fff" stroke="#166ed8" stroke-width="3"/>
<polygon points="1336.6,1003.3 1326.8,1020.2 1346.3,1020.2" fill="#fff" stroke="#166ed8" stroke-width="3"/>
<polygon points="1339.1,1019.5 1329.3,1036.4 1348.8,1036.4" fill="#fff" stroke="#166ed8" stroke-width="3"/>
<polygon points="1343.9,1035.7 1334.2,1052.6 1353.7,1052.6" fill="#fff" stroke="#166ed8" stroke-width="3"/>
<polygon points="1348.0,1051.9 1338.2,1068.8 1357.8,1068.8" fill="#fff" stroke="#166ed8" stroke-width="3"/>
<polygon points="1349.5,1068.1 1339.8,1085.0 1359.2,1085.0" fill="#fff" stroke="#166ed8" stroke-width="3"/>
<polygon points="1352.0,1084.3 1342.2,1101.2 1361.8,1101.2" fill="#fff" stroke="#166ed8" stroke-width="3"/>
<path d="M1148.3,157.6 L1158.1,173.8 L1153.8,190.1 L1155.1,206.3 L1143.0,222.5 L1128.0,238.7 L1117.1,254.9 L1116.6,271.1 L1124.0,284.9 L1145.2,301.1 L1168.1,317.3 L1183.3,333.5 L1188.8,349.7 L1193.5,365.9 L1206.9,382.1 L1207.8,398.4 L1216.2,414.6 L1221.3,430.8 L1226.4,447.0 L1228.9,463.2 L1233.1,479.4 L1235.5,495.6 L1234.6,511.9 L1235.6,528.1 L1237.2,544.3 L1240.0,560.5 L1243.0,576.7 L1243.5,592.9 L1246.8,609.1 L1246.0,625.4 L1248.5,641.6 L1251.9,657.8 L1248.5,674.0 L1248.0,690.2 L1248.4,706.4 L1254.5,722.7 L1255.7,738.9 L1255.1,755.1 L1254.5,771.3 L1255.5,787.5 L1256.5,803.7 L1259.2,819.9 L1290.0,836.2 L1305.0,852.4 L1340.0,868.6 L1348.4,884.8 L1353.0,901.0 L1353.0,917.2 L1351.7,933.5 L1349.3,949.7 L1346.0,965.9 L1345.0,982.1 L1344.0,998.3 L1343.0,1014.5 L1347.0,1030.7 L1349.0,1047.0 L1351.0,1063.2 L1352.0,1079.4 L1353.0,1095.6" fill="none" stroke="#2ea86c" stroke-width="3.5" stroke-linejoin="round" stroke-linecap="round"/>
<polygon points="1148.3,168.9 1138.5,152.0 1158.0,152.0" fill="#fff" stroke="#2ea86c" stroke-width="3"/>
<polygon points="1158.1,185.1 1148.3,168.2 1167.8,168.2" fill="#fff" stroke="#2ea86c" stroke-width="3"/>
<polygon points="1153.8,201.3 1144.0,184.4 1163.5,184.4" fill="#fff" stroke="#2ea86c" stroke-width="3"/>
<polygon points="1155.1,217.5 1145.3,200.6 1164.8,200.6" fill="#fff" stroke="#2ea86c" stroke-width="3"/>
<polygon points="1143.0,233.7 1133.2,216.9 1152.8,216.9" fill="#fff" stroke="#2ea86c" stroke-width="3"/>
<polygon points="1128.0,250.0 1118.2,233.1 1137.8,233.1" fill="#fff" stroke="#2ea86c" stroke-width="3"/>
<polygon points="1117.1,266.2 1107.3,249.3 1126.8,249.3" fill="#fff" stroke="#2ea86c" stroke-width="3"/>
<polygon points="1116.6,282.4 1106.8,265.5 1126.3,265.5" fill="#fff" stroke="#2ea86c" stroke-width="3"/>
<polygon points="1124.0,296.1 1114.2,279.2 1133.8,279.2" fill="#fff" stroke="#2ea86c" stroke-width="3"/>
<polygon points="1145.2,312.3 1135.5,295.4 1155.0,295.4" fill="#fff" stroke="#2ea86c" stroke-width="3"/>
<polygon points="1168.1,328.5 1158.3,311.7 1177.8,311.7" fill="#fff" stroke="#2ea86c" stroke-width="3"/>
<polygon points="1183.3,344.8 1173.5,327.9 1193.0,327.9" fill="#fff" stroke="#2ea86c" stroke-width="3"/>
<polygon points="1188.8,361.0 1179.0,344.1 1198.5,344.1" fill="#fff" stroke="#2ea86c" stroke-width="3"/>
<polygon points="1193.5,377.2 1183.8,360.3 1203.2,360.3" fill="#fff" stroke="#2ea86c" stroke-width="3"/>
<polygon points="1206.9,393.4 1197.2,376.5 1216.7,376.5" fill="#fff" stroke="#2ea86c" stroke-width="3"/>
<polygon points="1207.8,409.6 1198.0,392.7 1217.5,392.7" fill="#fff" stroke="#2ea86c" stroke-width="3"/>
<polygon points="1216.2,425.8 1206.5,408.9 1226.0,408.9" fill="#fff" stroke="#2ea86c" stroke-width="3"/>
<polygon points="1221.3,442.0 1211.5,425.2 1231.0,425.2" fill="#fff" stroke="#2ea86c" stroke-width="3"/>
<polygon points="1226.4,458.3 1216.7,441.4 1236.2,441.4" fill="#fff" stroke="#2ea86c" stroke-width="3"/>
<polygon points="1228.9,474.5 1219.2,457.6 1238.7,457.6" fill="#fff" stroke="#2ea86c" stroke-width="3"/>
<polygon points="1233.1,490.7 1223.3,473.8 1242.8,473.8" fill="#fff" stroke="#2ea86c" stroke-width="3"/>
<polygon points="1235.5,506.9 1225.8,490.0 1245.2,490.0" fill="#fff" stroke="#2ea86c" stroke-width="3"/>
<polygon points="1234.6,523.1 1224.8,506.2 1244.3,506.2" fill="#fff" stroke="#2ea86c" stroke-width="3"/>
<polygon points="1235.6,539.3 1225.8,522.4 1245.3,522.4" fill="#fff" stroke="#2ea86c" stroke-width="3"/>
<polygon points="1237.2,555.5 1227.5,538.7 1247.0,538.7" fill="#fff" stroke="#2ea86c" stroke-width="3"/>
<polygon points="1240.0,571.8 1230.2,554.9 1249.8,554.9" fill="#fff" stroke="#2ea86c" stroke-width="3"/>
<polygon points="1243.0,588.0 1233.2,571.1 1252.8,571.1" fill="#fff" stroke="#2ea86c" stroke-width="3"/>
<polygon points="1243.5,604.2 1233.8,587.3 1253.2,587.3" fill="#fff" stroke="#2ea86c" stroke-width="3"/>
<polygon points="1246.8,620.4 1237.0,603.5 1256.5,603.5" fill="#fff" stroke="#2ea86c" stroke-width="3"/>
<polygon points="1246.0,636.6 1236.2,619.7 1255.8,619.7" fill="#fff" stroke="#2ea86c" stroke-width="3"/>
<polygon points="1248.5,652.8 1238.8,636.0 1258.2,636.0" fill="#fff" stroke="#2ea86c" stroke-width="3"/>
<polygon points="1251.9,669.1 1242.2,652.2 1261.7,652.2" fill="#fff" stroke="#2ea86c" stroke-width="3"/>
<polygon points="1248.5,685.3 1238.8,668.4 1258.2,668.4" fill="#fff" stroke="#2ea86c" stroke-width="3"/>
<polygon points="1248.0,701.5 1238.2,684.6 1257.8,684.6" fill="#fff" stroke="#2ea86c" stroke-width="3"/>
<polygon points="1248.4,717.7 1238.7,700.8 1258.2,700.8" fill="#fff" stroke="#2ea86c" stroke-width="3"/>
<polygon points="1254.5,733.9 1244.8,717.0 1264.2,717.0" fill="#fff" stroke="#2ea86c" stroke-width="3"/>
<polygon points="1255.7,750.1 1246.0,733.2 1265.5,733.2" fill="#fff" stroke="#2ea86c" stroke-width="3"/>
<polygon points="1255.1,766.3 1245.3,749.5 1264.8,749.5" fill="#fff" stroke="#2ea86c" stroke-width="3"/>
<polygon points="1254.5,782.6 1244.8,765.7 1264.2,765.7" fill="#fff" stroke="#2ea86c" stroke-width="3"/>
<polygon points="1255.5,798.8 1245.8,781.9 1265.2,781.9" fill="#fff" stroke="#2ea86c" stroke-width="3"/>
<polygon points="1256.5,815.0 1246.8,798.1 1266.2,798.1" fill="#fff" stroke="#2ea86c" stroke-width="3"/>
<polygon points="1259.2,831.2 1249.5,814.3 1269.0,814.3" fill="#fff" stroke="#2ea86c" stroke-width="3"/>
<polygon points="1290.0,847.4 1280.2,830.5 1299.8,830.5" fill="#fff" stroke="#2ea86c" stroke-width="3"/>
<polygon points="1305.0,863.6 1295.2,846.7 1314.8,846.7" fill="#fff" stroke="#2ea86c" stroke-width="3"/>
<polygon points="1340.0,879.8 1330.2,863.0 1349.8,863.0" fill="#fff" stroke="#2ea86c" stroke-width="3"/>
<polygon points="1348.4,896.1 1338.7,879.2 1358.2,879.2" fill="#fff" stroke="#2ea86c" stroke-width="3"/>
<polygon points="1353.0,912.3 1343.2,895.4 1362.8,895.4" fill="#fff" stroke="#2ea86c" stroke-width="3"/>
<polygon points="1353.0,928.5 1343.2,911.6 1362.8,911.6" fill="#fff" stroke="#2ea86c" stroke-width="3"/>
<polygon points="1351.7,944.7 1342.0,927.8 1361.5,927.8" fill="#fff" stroke="#2ea86c" stroke-width="3"/>
<polygon points="1349.3,960.9 1339.5,944.0 1359.0,944.0" fill="#fff" stroke="#2ea86c" stroke-width="3"/>
<polygon points="1346.0,977.1 1336.2,960.3 1355.8,960.3" fill="#fff" stroke="#2ea86c" stroke-width="3"/>
<polygon points="1345.0,993.4 1335.2,976.5 1354.8,976.5" fill="#fff" stroke="#2ea86c" stroke-width="3"/>
<polygon points="1344.0,1009.6 1334.2,992.7 1353.8,992.7" fill="#fff" stroke="#2ea86c" stroke-width="3"/>
<polygon points="1343.0,1025.8 1333.2,1008.9 1352.8,1008.9" fill="#fff" stroke="#2ea86c" stroke-width="3"/>
<polygon points="1347.0,1042.0 1337.2,1025.1 1356.8,1025.1" fill="#fff" stroke="#2ea86c" stroke-width="3"/>
<polygon points="1349.0,1058.2 1339.2,1041.3 1358.8,1041.3" fill="#fff" stroke="#2ea86c" stroke-width="3"/>
<polygon points="1351.0,1074.4 1341.2,1057.5 1360.8,1057.5" fill="#fff" stroke="#2ea86c" stroke-width="3"/>
<polygon points="1352.0,1090.6 1342.2,1073.8 1361.8,1073.8" fill="#fff" stroke="#2ea86c" stroke-width="3"/>
<polygon points="1353.0,1106.9 1343.2,1090.0 1362.8,1090.0" fill="#fff" stroke="#2ea86c" stroke-width="3"/>
<path d="M1094.6,155.1 L1103.3,171.3 L1102.1,187.6 L1102.0,203.8 L1090.0,220.0 L1073.1,236.2 L1065.5,252.4 L1063.7,268.6 L1073.5,284.9 L1093.6,301.1 L1112.8,317.3 L1134.1,333.5 L1141.2,349.7 L1146.5,365.9 L1157.1,382.1 L1163.0,398.4 L1170.6,414.6 L1181.6,430.8 L1185.0,447.0 L1187.5,463.2 L1189.2,479.4 L1192.8,495.6 L1192.7,511.9 L1200.0,528.1 L1201.0,544.3 L1204.0,560.5 L1207.5,576.7 L1210.4,592.9 L1209.6,609.1 L1210.5,625.4 L1212.2,641.6 L1217.2,657.8 L1220.6,674.0 L1222.0,690.2 L1223.0,706.4 L1234.0,722.7 L1235.7,738.9 L1234.0,755.1 L1233.5,771.3 L1236.5,787.5 L1236.0,803.7 L1235.5,819.9 L1249.0,836.2 L1277.0,852.4 L1313.0,868.6 L1343.4,884.8 L1348.0,901.0 L1348.0,917.2 L1348.7,933.5 L1346.3,949.7 L1343.0,965.9 L1342.0,982.1 L1341.0,998.3 L1340.0,1014.5 L1344.0,1030.7 L1346.0,1047.0 L1348.0,1063.2 L1349.0,1079.4 L1350.0,1095.6" fill="none" stroke="#aa7ae4" stroke-width="3.5" stroke-linejoin="round" stroke-linecap="round"/>
<polygon points="1094.6,144.3 1105.4,155.1 1094.6,165.9 1083.8,155.1" fill="#fff" stroke="#aa7ae4" stroke-width="3"/>
<polygon points="1103.3,160.5 1114.1,171.3 1103.3,182.1 1092.5,171.3" fill="#fff" stroke="#aa7ae4" stroke-width="3"/>
<polygon points="1102.1,176.8 1112.9,187.6 1102.1,198.4 1091.3,187.6" fill="#fff" stroke="#aa7ae4" stroke-width="3"/>
<polygon points="1102.0,193.0 1112.8,203.8 1102.0,214.6 1091.2,203.8" fill="#fff" stroke="#aa7ae4" stroke-width="3"/>
<polygon points="1090.0,209.2 1100.8,220.0 1090.0,230.8 1079.2,220.0" fill="#fff" stroke="#aa7ae4" stroke-width="3"/>
<polygon points="1073.1,225.4 1083.9,236.2 1073.1,247.0 1062.3,236.2" fill="#fff" stroke="#aa7ae4" stroke-width="3"/>
<polygon points="1065.5,241.6 1076.3,252.4 1065.5,263.2 1054.7,252.4" fill="#fff" stroke="#aa7ae4" stroke-width="3"/>
<polygon points="1063.7,257.8 1074.5,268.6 1063.7,279.4 1052.9,268.6" fill="#fff" stroke="#aa7ae4" stroke-width="3"/>
<polygon points="1073.5,274.1 1084.3,284.9 1073.5,295.7 1062.7,284.9" fill="#fff" stroke="#aa7ae4" stroke-width="3"/>
<polygon points="1093.6,290.3 1104.4,301.1 1093.6,311.9 1082.8,301.1" fill="#fff" stroke="#aa7ae4" stroke-width="3"/>
<polygon points="1112.8,306.5 1123.6,317.3 1112.8,328.1 1102.0,317.3" fill="#fff" stroke="#aa7ae4" stroke-width="3"/>
<polygon points="1134.1,322.7 1144.9,333.5 1134.1,344.3 1123.3,333.5" fill="#fff" stroke="#aa7ae4" stroke-width="3"/>
<polygon points="1141.2,338.9 1152.0,349.7 1141.2,360.5 1130.4,349.7" fill="#fff" stroke="#aa7ae4" stroke-width="3"/>
<polygon points="1146.5,355.1 1157.3,365.9 1146.5,376.7 1135.7,365.9" fill="#fff" stroke="#aa7ae4" stroke-width="3"/>
<polygon points="1157.1,371.3 1167.9,382.1 1157.1,392.9 1146.3,382.1" fill="#fff" stroke="#aa7ae4" stroke-width="3"/>
<polygon points="1163.0,387.6 1173.8,398.4 1163.0,409.2 1152.2,398.4" fill="#fff" stroke="#aa7ae4" stroke-width="3"/>
<polygon points="1170.6,403.8 1181.4,414.6 1170.6,425.4 1159.8,414.6" fill="#fff" stroke="#aa7ae4" stroke-width="3"/>
<polygon points="1181.6,420.0 1192.4,430.8 1181.6,441.6 1170.8,430.8" fill="#fff" stroke="#aa7ae4" stroke-width="3"/>
<polygon points="1185.0,436.2 1195.8,447.0 1185.0,457.8 1174.2,447.0" fill="#fff" stroke="#aa7ae4" stroke-width="3"/>
<polygon points="1187.5,452.4 1198.3,463.2 1187.5,474.0 1176.7,463.2" fill="#fff" stroke="#aa7ae4" stroke-width="3"/>
<polygon points="1189.2,468.6 1200.0,479.4 1189.2,490.2 1178.4,479.4" fill="#fff" stroke="#aa7ae4" stroke-width="3"/>
<polygon points="1192.8,484.8 1203.6,495.6 1192.8,506.4 1182.0,495.6" fill="#fff" stroke="#aa7ae4" stroke-width="3"/>
<polygon points="1192.7,501.1 1203.5,511.9 1192.7,522.7 1181.9,511.9" fill="#fff" stroke="#aa7ae4" stroke-width="3"/>
<polygon points="1200.0,517.3 1210.8,528.1 1200.0,538.9 1189.2,528.1" fill="#fff" stroke="#aa7ae4" stroke-width="3"/>
<polygon points="1201.0,533.5 1211.8,544.3 1201.0,555.1 1190.2,544.3" fill="#fff" stroke="#aa7ae4" stroke-width="3"/>
<polygon points="1204.0,549.7 1214.8,560.5 1204.0,571.3 1193.2,560.5" fill="#fff" stroke="#aa7ae4" stroke-width="3"/>
<polygon points="1207.5,565.9 1218.3,576.7 1207.5,587.5 1196.7,576.7" fill="#fff" stroke="#aa7ae4" stroke-width="3"/>
<polygon points="1210.4,582.1 1221.2,592.9 1210.4,603.7 1199.6,592.9" fill="#fff" stroke="#aa7ae4" stroke-width="3"/>
<polygon points="1209.6,598.4 1220.4,609.1 1209.6,619.9 1198.8,609.1" fill="#fff" stroke="#aa7ae4" stroke-width="3"/>
<polygon points="1210.5,614.6 1221.3,625.4 1210.5,636.2 1199.7,625.4" fill="#fff" stroke="#aa7ae4" stroke-width="3"/>
<polygon points="1212.2,630.8 1223.0,641.6 1212.2,652.4 1201.4,641.6" fill="#fff" stroke="#aa7ae4" stroke-width="3"/>
<polygon points="1217.2,647.0 1228.0,657.8 1217.2,668.6 1206.4,657.8" fill="#fff" stroke="#aa7ae4" stroke-width="3"/>
<polygon points="1220.6,663.2 1231.4,674.0 1220.6,684.8 1209.8,674.0" fill="#fff" stroke="#aa7ae4" stroke-width="3"/>
<polygon points="1222.0,679.4 1232.8,690.2 1222.0,701.0 1211.2,690.2" fill="#fff" stroke="#aa7ae4" stroke-width="3"/>
<polygon points="1223.0,695.6 1233.8,706.4 1223.0,717.2 1212.2,706.4" fill="#fff" stroke="#aa7ae4" stroke-width="3"/>
<polygon points="1234.0,711.9 1244.8,722.7 1234.0,733.5 1223.2,722.7" fill="#fff" stroke="#aa7ae4" stroke-width="3"/>
<polygon points="1235.7,728.1 1246.5,738.9 1235.7,749.7 1224.9,738.9" fill="#fff" stroke="#aa7ae4" stroke-width="3"/>
<polygon points="1234.0,744.3 1244.8,755.1 1234.0,765.9 1223.2,755.1" fill="#fff" stroke="#aa7ae4" stroke-width="3"/>
<polygon points="1233.5,760.5 1244.3,771.3 1233.5,782.1 1222.7,771.3" fill="#fff" stroke="#aa7ae4" stroke-width="3"/>
<polygon points="1236.5,776.7 1247.3,787.5 1236.5,798.3 1225.7,787.5" fill="#fff" stroke="#aa7ae4" stroke-width="3"/>
<polygon points="1236.0,792.9 1246.8,803.7 1236.0,814.5 1225.2,803.7" fill="#fff" stroke="#aa7ae4" stroke-width="3"/>
<polygon points="1235.5,809.1 1246.3,819.9 1235.5,830.7 1224.7,819.9" fill="#fff" stroke="#aa7ae4" stroke-width="3"/>
<polygon points="1249.0,825.4 1259.8,836.2 1249.0,847.0 1238.2,836.2" fill="#fff" stroke="#aa7ae4" stroke-width="3"/>
<polygon points="1277.0,841.6 1287.8,852.4 1277.0,863.2 1266.2,852.4" fill="#fff" stroke="#aa7ae4" stroke-width="3"/>
<polygon points="1313.0,857.8 1323.8,868.6 1313.0,879.4 1302.2,868.6" fill="#fff" stroke="#aa7ae4" stroke-width="3"/>
<polygon points="1343.4,874.0 1354.2,884.8 1343.4,895.6 1332.6,884.8" fill="#fff" stroke="#aa7ae4" stroke-width="3"/>
<polygon points="1348.0,890.2 1358.8,901.0 1348.0,911.8 1337.2,901.0" fill="#fff" stroke="#aa7ae4" stroke-width="3"/>
<polygon points="1348.0,906.4 1358.8,917.2 1348.0,928.0 1337.2,917.2" fill="#fff" stroke="#aa7ae4" stroke-width="3"/>
<polygon points="1348.7,922.7 1359.5,933.5 1348.7,944.2 1337.9,933.5" fill="#fff" stroke="#aa7ae4" stroke-width="3"/>
<polygon points="1346.3,938.9 1357.1,949.7 1346.3,960.5 1335.5,949.7" fill="#fff" stroke="#aa7ae4" stroke-width="3"/>
<polygon points="1343.0,955.1 1353.8,965.9 1343.0,976.7 1332.2,965.9" fill="#fff" stroke="#aa7ae4" stroke-width="3"/>
<polygon points="1342.0,971.3 1352.8,982.1 1342.0,992.9 1331.2,982.1" fill="#fff" stroke="#aa7ae4" stroke-width="3"/>
<polygon points="1341.0,987.5 1351.8,998.3 1341.0,1009.1 1330.2,998.3" fill="#fff" stroke="#aa7ae4" stroke-width="3"/>
<polygon points="1340.0,1003.7 1350.8,1014.5 1340.0,1025.3 1329.2,1014.5" fill="#fff" stroke="#aa7ae4" stroke-width="3"/>
<polygon points="1344.0,1019.9 1354.8,1030.7 1344.0,1041.5 1333.2,1030.7" fill="#fff" stroke="#aa7ae4" stroke-width="3"/>
<polygon points="1346.0,1036.2 1356.8,1047.0 1346.0,1057.8 1335.2,1047.0" fill="#fff" stroke="#aa7ae4" stroke-width="3"/>
<polygon points="1348.0,1052.4 1358.8,1063.2 1348.0,1074.0 1337.2,1063.2" fill="#fff" stroke="#aa7ae4" stroke-width="3"/>
<polygon points="1349.0,1068.6 1359.8,1079.4 1349.0,1090.2 1338.2,1079.4" fill="#fff" stroke="#aa7ae4" stroke-width="3"/>
<polygon points="1350.0,1084.8 1360.8,1095.6 1350.0,1106.4 1339.2,1095.6" fill="#fff" stroke="#aa7ae4" stroke-width="3"/>
<path d="M995.0,138.9 L993.0,155.1 L991.5,171.3 L988.6,187.6 L977.3,203.8 L957.4,220.0 L961.0,236.2 L961.0,252.4 L977.3,268.6 L1001.4,284.9 L1028.2,301.1 L1054.3,317.3 L1067.6,333.5 L1076.3,349.7 L1086.4,365.9 L1097.4,382.1 L1104.0,398.4 L1113.3,414.6 L1134.5,430.8 L1137.0,447.0 L1141.2,463.2 L1142.0,479.4 L1147.1,495.6 L1152.2,511.9 L1161.7,528.1 L1166.0,544.3 L1167.7,560.5 L1166.0,576.7 L1164.9,592.9 L1169.4,609.1 L1181.3,625.4 L1189.7,641.6 L1198.1,657.8 L1207.4,674.0 L1208.0,690.2 L1211.2,706.4 L1224.4,722.7 L1225.0,738.9 L1231.3,755.1 L1232.0,771.3 L1237.0,787.5 L1237.5,803.7 L1242.3,819.9 L1282.0,836.2 L1313.0,852.4 L1332.5,868.6 L1336.5,884.8 L1340.3,901.0 L1340.3,917.2 L1333.9,933.5 L1336.0,949.7 L1332.7,965.9 L1332.5,982.1 L1337.0,998.3 L1333.6,1014.5 L1336.1,1030.7 L1340.9,1047.0 L1345.0,1063.2 L1346.5,1079.4 L1349.0,1095.6" fill="none" stroke="#c89c06" stroke-width="3.5" stroke-linejoin="round" stroke-linecap="round"/>
<polygon points="983.7,138.9 1000.6,129.2 1000.6,148.7" fill="#fff" stroke="#c89c06" stroke-width="3"/>
<polygon points="981.7,155.1 998.6,145.4 998.6,164.9" fill="#fff" stroke="#c89c06" stroke-width="3"/>
<polygon points="980.2,171.3 997.1,161.6 997.1,181.1" fill="#fff" stroke="#c89c06" stroke-width="3"/>
<polygon points="977.3,187.6 994.2,177.8 994.2,197.3" fill="#fff" stroke="#c89c06" stroke-width="3"/>
<polygon points="966.0,203.8 982.9,194.0 982.9,213.5" fill="#fff" stroke="#c89c06" stroke-width="3"/>
<polygon points="946.1,220.0 963.0,210.2 963.0,229.7" fill="#fff" stroke="#c89c06" stroke-width="3"/>
<polygon points="949.7,236.2 966.6,226.5 966.6,246.0" fill="#fff" stroke="#c89c06" stroke-width="3"/>
<polygon points="949.7,252.4 966.6,242.7 966.6,262.2" fill="#fff" stroke="#c89c06" stroke-width="3"/>
<polygon points="966.0,268.6 982.9,258.9 982.9,278.4" fill="#fff" stroke="#c89c06" stroke-width="3"/>
<polygon points="990.1,284.9 1007.0,275.1 1007.0,294.6" fill="#fff" stroke="#c89c06" stroke-width="3"/>
<polygon points="1016.9,301.1 1033.8,291.3 1033.8,310.8" fill="#fff" stroke="#c89c06" stroke-width="3"/>
<polygon points="1043.0,317.3 1059.9,307.5 1059.9,327.0" fill="#fff" stroke="#c89c06" stroke-width="3"/>
<polygon points="1056.3,333.5 1073.2,323.7 1073.2,343.2" fill="#fff" stroke="#c89c06" stroke-width="3"/>
<polygon points="1065.0,349.7 1081.9,340.0 1081.9,359.5" fill="#fff" stroke="#c89c06" stroke-width="3"/>
<polygon points="1075.1,365.9 1092.0,356.2 1092.0,375.7" fill="#fff" stroke="#c89c06" stroke-width="3"/>
<polygon points="1086.1,382.1 1103.0,372.4 1103.0,391.9" fill="#fff" stroke="#c89c06" stroke-width="3"/>
<polygon points="1092.7,398.4 1109.6,388.6 1109.6,408.1" fill="#fff" stroke="#c89c06" stroke-width="3"/>
<polygon points="1102.0,414.6 1118.9,404.8 1118.9,424.3" fill="#fff" stroke="#c89c06" stroke-width="3"/>
<polygon points="1123.2,430.8 1140.1,421.0 1140.1,440.5" fill="#fff" stroke="#c89c06" stroke-width="3"/>
<polygon points="1125.7,447.0 1142.6,437.2 1142.6,456.8" fill="#fff" stroke="#c89c06" stroke-width="3"/>
<polygon points="1129.9,463.2 1146.8,453.5 1146.8,473.0" fill="#fff" stroke="#c89c06" stroke-width="3"/>
<polygon points="1130.7,479.4 1147.6,469.7 1147.6,489.2" fill="#fff" stroke="#c89c06" stroke-width="3"/>
<polygon points="1135.8,495.6 1152.7,485.9 1152.7,505.4" fill="#fff" stroke="#c89c06" stroke-width="3"/>
<polygon points="1140.9,511.9 1157.8,502.1 1157.8,521.6" fill="#fff" stroke="#c89c06" stroke-width="3"/>
<polygon points="1150.4,528.1 1167.3,518.3 1167.3,537.8" fill="#fff" stroke="#c89c06" stroke-width="3"/>
<polygon points="1154.7,544.3 1171.6,534.5 1171.6,554.0" fill="#fff" stroke="#c89c06" stroke-width="3"/>
<polygon points="1156.4,560.5 1173.3,550.8 1173.3,570.3" fill="#fff" stroke="#c89c06" stroke-width="3"/>
<polygon points="1154.7,576.7 1171.6,567.0 1171.6,586.5" fill="#fff" stroke="#c89c06" stroke-width="3"/>
<polygon points="1153.6,592.9 1170.5,583.2 1170.5,602.7" fill="#fff" stroke="#c89c06" stroke-width="3"/>
<polygon points="1158.1,609.1 1175.0,599.4 1175.0,618.9" fill="#fff" stroke="#c89c06" stroke-width="3"/>
<polygon points="1170.0,625.4 1186.9,615.6 1186.9,635.1" fill="#fff" stroke="#c89c06" stroke-width="3"/>
<polygon points="1178.4,641.6 1195.3,631.8 1195.3,651.3" fill="#fff" stroke="#c89c06" stroke-width="3"/>
<polygon points="1186.8,657.8 1203.7,648.0 1203.7,667.5" fill="#fff" stroke="#c89c06" stroke-width="3"/>
<polygon points="1196.1,674.0 1213.0,664.3 1213.0,683.8" fill="#fff" stroke="#c89c06" stroke-width="3"/>
<polygon points="1196.7,690.2 1213.6,680.5 1213.6,700.0" fill="#fff" stroke="#c89c06" stroke-width="3"/>
<polygon points="1199.9,706.4 1216.8,696.7 1216.8,716.2" fill="#fff" stroke="#c89c06" stroke-width="3"/>
<polygon points="1213.1,722.7 1230.0,712.9 1230.0,732.4" fill="#fff" stroke="#c89c06" stroke-width="3"/>
<polygon points="1213.7,738.9 1230.6,729.1 1230.6,748.6" fill="#fff" stroke="#c89c06" stroke-width="3"/>
<polygon points="1220.0,755.1 1236.9,745.3 1236.9,764.8" fill="#fff" stroke="#c89c06" stroke-width="3"/>
<polygon points="1220.7,771.3 1237.6,761.6 1237.6,781.1" fill="#fff" stroke="#c89c06" stroke-width="3"/>
<polygon points="1225.7,787.5 1242.6,777.8 1242.6,797.3" fill="#fff" stroke="#c89c06" stroke-width="3"/>
<polygon points="1226.2,803.7 1243.1,794.0 1243.1,813.5" fill="#fff" stroke="#c89c06" stroke-width="3"/>
<polygon points="1231.0,819.9 1247.9,810.2 1247.9,829.7" fill="#fff" stroke="#c89c06" stroke-width="3"/>
<polygon points="1270.7,836.2 1287.6,826.4 1287.6,845.9" fill="#fff" stroke="#c89c06" stroke-width="3"/>
<polygon points="1301.7,852.4 1318.6,842.6 1318.6,862.1" fill="#fff" stroke="#c89c06" stroke-width="3"/>
<polygon points="1321.2,868.6 1338.1,858.8 1338.1,878.3" fill="#fff" stroke="#c89c06" stroke-width="3"/>
<polygon points="1325.2,884.8 1342.1,875.1 1342.1,894.6" fill="#fff" stroke="#c89c06" stroke-width="3"/>
<polygon points="1329.0,901.0 1345.9,891.3 1345.9,910.8" fill="#fff" stroke="#c89c06" stroke-width="3"/>
<polygon points="1329.0,917.2 1345.9,907.5 1345.9,927.0" fill="#fff" stroke="#c89c06" stroke-width="3"/>
<polygon points="1322.6,933.5 1339.5,923.7 1339.5,943.2" fill="#fff" stroke="#c89c06" stroke-width="3"/>
<polygon points="1324.7,949.7 1341.6,939.9 1341.6,959.4" fill="#fff" stroke="#c89c06" stroke-width="3"/>
<polygon points="1321.4,965.9 1338.3,956.1 1338.3,975.6" fill="#fff" stroke="#c89c06" stroke-width="3"/>
<polygon points="1321.2,982.1 1338.1,972.3 1338.1,991.8" fill="#fff" stroke="#c89c06" stroke-width="3"/>
<polygon points="1325.7,998.3 1342.6,988.6 1342.6,1008.1" fill="#fff" stroke="#c89c06" stroke-width="3"/>
<polygon points="1322.3,1014.5 1339.2,1004.8 1339.2,1024.3" fill="#fff" stroke="#c89c06" stroke-width="3"/>
<polygon points="1324.8,1030.7 1341.7,1021.0 1341.7,1040.5" fill="#fff" stroke="#c89c06" stroke-width="3"/>
<polygon points="1329.6,1047.0 1346.5,1037.2 1346.5,1056.7" fill="#fff" stroke="#c89c06" stroke-width="3"/>
<polygon points="1333.7,1063.2 1350.6,1053.4 1350.6,1072.9" fill="#fff" stroke="#c89c06" stroke-width="3"/>
<polygon points="1335.2,1079.4 1352.1,1069.6 1352.1,1089.1" fill="#fff" stroke="#c89c06" stroke-width="3"/>
<polygon points="1337.7,1095.6 1354.6,1085.8 1354.6,1105.3" fill="#fff" stroke="#c89c06" stroke-width="3"/>
<path d="M1387.8,155.1 L1388.7,171.3 L1381.7,187.6 L1383.3,203.8 L1376.3,220.0 L1373.3,236.2 L1374.2,252.4 L1374.5,268.6 L1371.7,284.9 L1372.8,301.1 L1373.7,317.3 L1381.0,333.5 L1381.0,349.7 L1373.0,365.9 L1373.0,382.1 L1376.0,398.4 L1376.0,414.6 L1373.0,430.8 L1375.0,447.0 L1375.0,463.2 L1367.0,479.4 L1366.0,495.6 L1367.0,511.9 L1368.0,528.1 L1367.5,544.3 L1368.0,560.5 L1365.0,576.7 L1361.0,592.9 L1362.0,609.1 L1362.0,625.4 L1362.0,641.6 L1360.0,657.8 L1360.0,674.0 L1360.0,690.2 L1360.0,706.4 L1360.0,722.7 L1361.0,738.9 L1361.0,755.1 L1361.0,771.3 L1361.0,787.5 L1359.4,803.7 L1358.7,819.9 L1362.8,836.2 L1370.6,852.4 L1378.0,868.6 L1378.5,884.8 L1377.9,901.0 L1377.3,917.2 L1371.6,933.5 L1368.6,949.7 L1365.4,965.9 L1363.6,982.1 L1364.8,998.3 L1362.3,1014.5 L1360.4,1030.7 L1359.3,1047.0 L1354.5,1063.2 L1353.1,1079.4 L1354.5,1095.6" fill="none" stroke="#00cfc4" stroke-width="3.5" stroke-linejoin="round" stroke-linecap="round"/>
<polygon points="1399.1,155.1 1382.2,145.4 1382.2,164.9" fill="#fff" stroke="#00cfc4" stroke-width="3"/>
<polygon points="1400.0,171.3 1383.1,161.6 1383.1,181.1" fill="#fff" stroke="#00cfc4" stroke-width="3"/>
<polygon points="1393.0,187.6 1376.1,177.8 1376.1,197.3" fill="#fff" stroke="#00cfc4" stroke-width="3"/>
<polygon points="1394.6,203.8 1377.7,194.0 1377.7,213.5" fill="#fff" stroke="#00cfc4" stroke-width="3"/>
<polygon points="1387.6,220.0 1370.7,210.2 1370.7,229.7" fill="#fff" stroke="#00cfc4" stroke-width="3"/>
<polygon points="1384.6,236.2 1367.7,226.5 1367.7,246.0" fill="#fff" stroke="#00cfc4" stroke-width="3"/>
<polygon points="1385.5,252.4 1368.6,242.7 1368.6,262.2" fill="#fff" stroke="#00cfc4" stroke-width="3"/>
<polygon points="1385.8,268.6 1368.9,258.9 1368.9,278.4" fill="#fff" stroke="#00cfc4" stroke-width="3"/>
<polygon points="1383.0,284.9 1366.1,275.1 1366.1,294.6" fill="#fff" stroke="#00cfc4" stroke-width="3"/>
<polygon points="1384.1,301.1 1367.2,291.3 1367.2,310.8" fill="#fff" stroke="#00cfc4" stroke-width="3"/>
<polygon points="1385.0,317.3 1368.1,307.5 1368.1,327.0" fill="#fff" stroke="#00cfc4" stroke-width="3"/>
<polygon points="1392.3,333.5 1375.4,323.7 1375.4,343.2" fill="#fff" stroke="#00cfc4" stroke-width="3"/>
<polygon points="1392.3,349.7 1375.4,340.0 1375.4,359.5" fill="#fff" stroke="#00cfc4" stroke-width="3"/>
<polygon points="1384.3,365.9 1367.4,356.2 1367.4,375.7" fill="#fff" stroke="#00cfc4" stroke-width="3"/>
<polygon points="1384.3,382.1 1367.4,372.4 1367.4,391.9" fill="#fff" stroke="#00cfc4" stroke-width="3"/>
<polygon points="1387.3,398.4 1370.4,388.6 1370.4,408.1" fill="#fff" stroke="#00cfc4" stroke-width="3"/>
<polygon points="1387.3,414.6 1370.4,404.8 1370.4,424.3" fill="#fff" stroke="#00cfc4" stroke-width="3"/>
<polygon points="1384.3,430.8 1367.4,421.0 1367.4,440.5" fill="#fff" stroke="#00cfc4" stroke-width="3"/>
<polygon points="1386.3,447.0 1369.4,437.2 1369.4,456.8" fill="#fff" stroke="#00cfc4" stroke-width="3"/>
<polygon points="1386.3,463.2 1369.4,453.5 1369.4,473.0" fill="#fff" stroke="#00cfc4" stroke-width="3"/>
<polygon points="1378.3,479.4 1361.4,469.7 1361.4,489.2" fill="#fff" stroke="#00cfc4" stroke-width="3"/>
<polygon points="1377.3,495.6 1360.4,485.9 1360.4,505.4" fill="#fff" stroke="#00cfc4" stroke-width="3"/>
<polygon points="1378.3,511.9 1361.4,502.1 1361.4,521.6" fill="#fff" stroke="#00cfc4" stroke-width="3"/>
<polygon points="1379.3,528.1 1362.4,518.3 1362.4,537.8" fill="#fff" stroke="#00cfc4" stroke-width="3"/>
<polygon points="1378.8,544.3 1361.9,534.5 1361.9,554.0" fill="#fff" stroke="#00cfc4" stroke-width="3"/>
<polygon points="1379.3,560.5 1362.4,550.8 1362.4,570.3" fill="#fff" stroke="#00cfc4" stroke-width="3"/>
<polygon points="1376.3,576.7 1359.4,567.0 1359.4,586.5" fill="#fff" stroke="#00cfc4" stroke-width="3"/>
<polygon points="1372.3,592.9 1355.4,583.2 1355.4,602.7" fill="#fff" stroke="#00cfc4" stroke-width="3"/>
<polygon points="1373.3,609.1 1356.4,599.4 1356.4,618.9" fill="#fff" stroke="#00cfc4" stroke-width="3"/>
<polygon points="1373.3,625.4 1356.4,615.6 1356.4,635.1" fill="#fff" stroke="#00cfc4" stroke-width="3"/>
<polygon points="1373.3,641.6 1356.4,631.8 1356.4,651.3" fill="#fff" stroke="#00cfc4" stroke-width="3"/>
<polygon points="1371.3,657.8 1354.4,648.0 1354.4,667.5" fill="#fff" stroke="#00cfc4" stroke-width="3"/>
<polygon points="1371.3,674.0 1354.4,664.3 1354.4,683.8" fill="#fff" stroke="#00cfc4" stroke-width="3"/>
<polygon points="1371.3,690.2 1354.4,680.5 1354.4,700.0" fill="#fff" stroke="#00cfc4" stroke-width="3"/>
<polygon points="1371.3,706.4 1354.4,696.7 1354.4,716.2" fill="#fff" stroke="#00cfc4" stroke-width="3"/>
<polygon points="1371.3,722.7 1354.4,712.9 1354.4,732.4" fill="#fff" stroke="#00cfc4" stroke-width="3"/>
<polygon points="1372.3,738.9 1355.4,729.1 1355.4,748.6" fill="#fff" stroke="#00cfc4" stroke-width="3"/>
<polygon points="1372.3,755.1 1355.4,745.3 1355.4,764.8" fill="#fff" stroke="#00cfc4" stroke-width="3"/>
<polygon points="1372.3,771.3 1355.4,761.6 1355.4,781.1" fill="#fff" stroke="#00cfc4" stroke-width="3"/>
<polygon points="1372.3,787.5 1355.4,777.8 1355.4,797.3" fill="#fff" stroke="#00cfc4" stroke-width="3"/>
<polygon points="1370.7,803.7 1353.8,794.0 1353.8,813.5" fill="#fff" stroke="#00cfc4" stroke-width="3"/>
<polygon points="1370.0,819.9 1353.1,810.2 1353.1,829.7" fill="#fff" stroke="#00cfc4" stroke-width="3"/>
<polygon points="1374.1,836.2 1357.2,826.4 1357.2,845.9" fill="#fff" stroke="#00cfc4" stroke-width="3"/>
<polygon points="1381.9,852.4 1365.0,842.6 1365.0,862.1" fill="#fff" stroke="#00cfc4" stroke-width="3"/>
<polygon points="1389.3,868.6 1372.4,858.8 1372.4,878.3" fill="#fff" stroke="#00cfc4" stroke-width="3"/>
<polygon points="1389.8,884.8 1372.9,875.1 1372.9,894.6" fill="#fff" stroke="#00cfc4" stroke-width="3"/>
<polygon points="1389.2,901.0 1372.3,891.3 1372.3,910.8" fill="#fff" stroke="#00cfc4" stroke-width="3"/>
<polygon points="1388.6,917.2 1371.7,907.5 1371.7,927.0" fill="#fff" stroke="#00cfc4" stroke-width="3"/>
<polygon points="1382.9,933.5 1366.0,923.7 1366.0,943.2" fill="#fff" stroke="#00cfc4" stroke-width="3"/>
<polygon points="1379.9,949.7 1363.0,939.9 1363.0,959.4" fill="#fff" stroke="#00cfc4" stroke-width="3"/>
<polygon points="1376.7,965.9 1359.8,956.1 1359.8,975.6" fill="#fff" stroke="#00cfc4" stroke-width="3"/>
<polygon points="1374.9,982.1 1358.0,972.3 1358.0,991.8" fill="#fff" stroke="#00cfc4" stroke-width="3"/>
<polygon points="1376.1,998.3 1359.2,988.6 1359.2,1008.1" fill="#fff" stroke="#00cfc4" stroke-width="3"/>
<polygon points="1373.6,1014.5 1356.7,1004.8 1356.7,1024.3" fill="#fff" stroke="#00cfc4" stroke-width="3"/>
<polygon points="1371.7,1030.7 1354.8,1021.0 1354.8,1040.5" fill="#fff" stroke="#00cfc4" stroke-width="3"/>
<polygon points="1370.6,1047.0 1353.7,1037.2 1353.7,1056.7" fill="#fff" stroke="#00cfc4" stroke-width="3"/>
<polygon points="1365.8,1063.2 1348.9,1053.4 1348.9,1072.9" fill="#fff" stroke="#00cfc4" stroke-width="3"/>
<polygon points="1364.4,1079.4 1347.5,1069.6 1347.5,1089.1" fill="#fff" stroke="#00cfc4" stroke-width="3"/>
<polygon points="1365.8,1095.6 1348.9,1085.8 1348.9,1105.3" fill="#fff" stroke="#00cfc4" stroke-width="3"/></g>
<line x1="140.0" y1="125.3" x2="684.8" y2="125.3" stroke="#000" stroke-width="2.2"/>
<line x1="140.0" y1="125.3" x2="140.0" y2="1106.6" stroke="#000" stroke-width="2.4"/>
<line x1="140.0" y1="107.3" x2="140.0" y2="125.3" stroke="#000" stroke-width="2.2"/>
<line x1="185.4" y1="116.3" x2="185.4" y2="125.3" stroke="#000" stroke-width="2.2"/>
<line x1="230.8" y1="107.3" x2="230.8" y2="125.3" stroke="#000" stroke-width="2.2"/>
<line x1="276.2" y1="116.3" x2="276.2" y2="125.3" stroke="#000" stroke-width="2.2"/>
<line x1="321.6" y1="107.3" x2="321.6" y2="125.3" stroke="#000" stroke-width="2.2"/>
<line x1="367.0" y1="116.3" x2="367.0" y2="125.3" stroke="#000" stroke-width="2.2"/>
<line x1="412.4" y1="107.3" x2="412.4" y2="125.3" stroke="#000" stroke-width="2.2"/>
<line x1="457.8" y1="116.3" x2="457.8" y2="125.3" stroke="#000" stroke-width="2.2"/>
<line x1="503.2" y1="107.3" x2="503.2" y2="125.3" stroke="#000" stroke-width="2.2"/>
<line x1="548.6" y1="116.3" x2="548.6" y2="125.3" stroke="#000" stroke-width="2.2"/>
<line x1="594.0" y1="107.3" x2="594.0" y2="125.3" stroke="#000" stroke-width="2.2"/>
<line x1="639.4" y1="116.3" x2="639.4" y2="125.3" stroke="#000" stroke-width="2.2"/>
<line x1="684.8" y1="107.3" x2="684.8" y2="125.3" stroke="#000" stroke-width="2.2"/>
<line x1="121.0" y1="125.4" x2="140.0" y2="125.4" stroke="#000" stroke-width="2.2"/>
<line x1="131.0" y1="207.2" x2="140.0" y2="207.2" stroke="#000" stroke-width="2.2"/>
<line x1="121.0" y1="288.9" x2="140.0" y2="288.9" stroke="#000" stroke-width="2.2"/>
<line x1="131.0" y1="370.7" x2="140.0" y2="370.7" stroke="#000" stroke-width="2.2"/>
<line x1="121.0" y1="452.5" x2="140.0" y2="452.5" stroke="#000" stroke-width="2.2"/>
<line x1="131.0" y1="534.2" x2="140.0" y2="534.2" stroke="#000" stroke-width="2.2"/>
<line x1="121.0" y1="616.0" x2="140.0" y2="616.0" stroke="#000" stroke-width="2.2"/>
<line x1="131.0" y1="697.8" x2="140.0" y2="697.8" stroke="#000" stroke-width="2.2"/>
<line x1="121.0" y1="779.5" x2="140.0" y2="779.5" stroke="#000" stroke-width="2.2"/>
<line x1="131.0" y1="861.3" x2="140.0" y2="861.3" stroke="#000" stroke-width="2.2"/>
<line x1="121.0" y1="943.1" x2="140.0" y2="943.1" stroke="#000" stroke-width="2.2"/>
<line x1="131.0" y1="1024.8" x2="140.0" y2="1024.8" stroke="#000" stroke-width="2.2"/>
<line x1="121.0" y1="1106.6" x2="140.0" y2="1106.6" stroke="#000" stroke-width="2.2"/>
<line x1="855.0" y1="122.7" x2="1457.6" y2="122.7" stroke="#000" stroke-width="2.2"/>
<line x1="855.0" y1="122.7" x2="855.0" y2="1095.6" stroke="#000" stroke-width="2.4"/>
<line x1="855.2" y1="104.7" x2="855.2" y2="122.7" stroke="#000" stroke-width="2.2"/>
<line x1="905.4" y1="113.7" x2="905.4" y2="122.7" stroke="#000" stroke-width="2.2"/>
<line x1="955.6" y1="104.7" x2="955.6" y2="122.7" stroke="#000" stroke-width="2.2"/>
<line x1="1005.8" y1="113.7" x2="1005.8" y2="122.7" stroke="#000" stroke-width="2.2"/>
<line x1="1056.0" y1="104.7" x2="1056.0" y2="122.7" stroke="#000" stroke-width="2.2"/>
<line x1="1106.2" y1="113.7" x2="1106.2" y2="122.7" stroke="#000" stroke-width="2.2"/>
<line x1="1156.4" y1="104.7" x2="1156.4" y2="122.7" stroke="#000" stroke-width="2.2"/>
<line x1="1206.6" y1="113.7" x2="1206.6" y2="122.7" stroke="#000" stroke-width="2.2"/>
<line x1="1256.8" y1="104.7" x2="1256.8" y2="122.7" stroke="#000" stroke-width="2.2"/>
<line x1="1307.0" y1="113.7" x2="1307.0" y2="122.7" stroke="#000" stroke-width="2.2"/>
<line x1="1357.2" y1="104.7" x2="1357.2" y2="122.7" stroke="#000" stroke-width="2.2"/>
<line x1="1407.4" y1="113.7" x2="1407.4" y2="122.7" stroke="#000" stroke-width="2.2"/>
<line x1="1457.6" y1="104.7" x2="1457.6" y2="122.7" stroke="#000" stroke-width="2.2"/>
<line x1="836.0" y1="122.7" x2="855.0" y2="122.7" stroke="#000" stroke-width="2.2"/>
<line x1="846.0" y1="203.8" x2="855.0" y2="203.8" stroke="#000" stroke-width="2.2"/>
<line x1="836.0" y1="284.9" x2="855.0" y2="284.9" stroke="#000" stroke-width="2.2"/>
<line x1="846.0" y1="365.9" x2="855.0" y2="365.9" stroke="#000" stroke-width="2.2"/>
<line x1="836.0" y1="447.0" x2="855.0" y2="447.0" stroke="#000" stroke-width="2.2"/>
<line x1="846.0" y1="528.1" x2="855.0" y2="528.1" stroke="#000" stroke-width="2.2"/>
<line x1="836.0" y1="609.1" x2="855.0" y2="609.1" stroke="#000" stroke-width="2.2"/>
<line x1="846.0" y1="690.2" x2="855.0" y2="690.2" stroke="#000" stroke-width="2.2"/>
<line x1="836.0" y1="771.3" x2="855.0" y2="771.3" stroke="#000" stroke-width="2.2"/>
<line x1="846.0" y1="852.4" x2="855.0" y2="852.4" stroke="#000" stroke-width="2.2"/>
<line x1="836.0" y1="933.5" x2="855.0" y2="933.5" stroke="#000" stroke-width="2.2"/>
<line x1="846.0" y1="1014.5" x2="855.0" y2="1014.5" stroke="#000" stroke-width="2.2"/>
<line x1="836.0" y1="1095.6" x2="855.0" y2="1095.6" stroke="#000" stroke-width="2.2"/>
<line x1="140" y1="403.9" x2="583" y2="406.3" stroke="#e00d15" stroke-width="4" stroke-dasharray="44 22.7"/>
<line x1="855" y1="284.2" x2="1422" y2="287.2" stroke="#e00d15" stroke-width="4" stroke-dasharray="44 22.7"/>
<line x1="155" y1="896.1" x2="236" y2="896.1" stroke="#4f4f4f" stroke-width="4.5" stroke-linecap="round"/>
<rect x="187.8" y="888.6" width="15" height="15" fill="#fff" stroke="#4f4f4f" stroke-width="3"/>
<line x1="155" y1="940.6" x2="236" y2="940.6" stroke="#166ed8" stroke-width="4.5" stroke-linecap="round"/>
<polygon points="195.3,929.1 185.3,946.4 205.3,946.4" fill="#fff" stroke="#166ed8" stroke-width="3"/>
<line x1="155" y1="985.1" x2="236" y2="985.1" stroke="#aa7ae4" stroke-width="4.5" stroke-linecap="round"/>
<polygon points="195.3,974.1 206.3,985.1 195.3,996.1 184.3,985.1" fill="#fff" stroke="#aa7ae4" stroke-width="3"/>
<line x1="873" y1="823.4" x2="953" y2="823.4" stroke="#4f4f4f" stroke-width="4.5" stroke-linecap="round"/>
<rect x="906.0" y="816.4" width="14" height="14" fill="#fff" stroke="#4f4f4f" stroke-width="3"/>
<line x1="873" y1="866.8" x2="953" y2="866.8" stroke="#f34040" stroke-width="4.5" stroke-linecap="round"/>
<circle cx="913.0" cy="866.8" r="8.5" fill="#fff" stroke="#f34040" stroke-width="3"/>
<line x1="873" y1="910.1" x2="953" y2="910.1" stroke="#166ed8" stroke-width="4.5" stroke-linecap="round"/>
<polygon points="913.0,898.6 903.0,915.9 923.0,915.9" fill="#fff" stroke="#166ed8" stroke-width="3"/>
<line x1="873" y1="953.5" x2="953" y2="953.5" stroke="#2ea86c" stroke-width="4.5" stroke-linecap="round"/>
<polygon points="913.0,965.0 903.0,947.7 923.0,947.7" fill="#fff" stroke="#2ea86c" stroke-width="3"/>
<line x1="873" y1="996.8" x2="953" y2="996.8" stroke="#aa7ae4" stroke-width="4.5" stroke-linecap="round"/>
<polygon points="913.0,986.3 923.5,996.8 913.0,1007.3 902.5,996.8" fill="#fff" stroke="#aa7ae4" stroke-width="3"/>
<line x1="873" y1="1040.2" x2="953" y2="1040.2" stroke="#c89c06" stroke-width="4.5" stroke-linecap="round"/>
<polygon points="901.5,1040.2 918.8,1030.2 918.8,1050.2" fill="#fff" stroke="#c89c06" stroke-width="3"/>
<line x1="873" y1="1083.5" x2="953" y2="1083.5" stroke="#00cfc4" stroke-width="4.5" stroke-linecap="round"/>
<polygon points="924.5,1083.5 907.2,1073.5 907.2,1093.5" fill="#fff" stroke="#00cfc4" stroke-width="3"/>
<text x="144.5" y="94.5" font-size="43" font-weight="normal" text-anchor="middle" >-50</text>
<text x="235.3" y="94.5" font-size="43" font-weight="normal" text-anchor="middle" >-40</text>
<text x="326.1" y="94.5" font-size="43" font-weight="normal" text-anchor="middle" >-30</text>
<text x="416.9" y="94.5" font-size="43" font-weight="normal" text-anchor="middle" >-20</text>
<text x="507.7" y="94.5" font-size="43" font-weight="normal" text-anchor="middle" >-10</text>
<text x="598.5" y="94.5" font-size="43" font-weight="normal" text-anchor="middle" >0</text>
<text x="689.3" y="94.5" font-size="43" font-weight="normal" text-anchor="middle" >10</text>
<text x="854.2" y="91.0" font-size="43" font-weight="normal" text-anchor="middle" >-50</text>
<text x="954.6" y="91.0" font-size="43" font-weight="normal" text-anchor="middle" >-40</text>
<text x="1055.0" y="91.0" font-size="43" font-weight="normal" text-anchor="middle" >-30</text>
<text x="1155.4" y="91.0" font-size="43" font-weight="normal" text-anchor="middle" >-20</text>
<text x="1255.8" y="91.0" font-size="43" font-weight="normal" text-anchor="middle" >-10</text>
<text x="1356.2" y="91.0" font-size="43" font-weight="normal" text-anchor="middle" >0</text>
<text x="1456.6" y="91.0" font-size="43" font-weight="normal" text-anchor="middle" >10</text>
<text x="71.0" y="140.4" font-size="43" font-weight="normal" text-anchor="start" >0</text>
<text x="71.0" y="303.9" font-size="43" font-weight="normal" text-anchor="start" >5</text>
<text x="71.0" y="467.5" font-size="43" font-weight="normal" text-anchor="start" >10</text>
<text x="71.0" y="631.0" font-size="43" font-weight="normal" text-anchor="start" >15</text>
<text x="71.0" y="794.5" font-size="43" font-weight="normal" text-anchor="start" >20</text>
<text x="71.0" y="958.1" font-size="43" font-weight="normal" text-anchor="start" >25</text>
<text x="71.0" y="1121.6" font-size="43" font-weight="normal" text-anchor="start" >30</text>
<text x="824.0" y="135.7" font-size="43" font-weight="normal" text-anchor="end" >0</text>
<text x="824.0" y="297.9" font-size="43" font-weight="normal" text-anchor="end" >5</text>
<text x="824.0" y="460.0" font-size="43" font-weight="normal" text-anchor="end" >10</text>
<text x="824.0" y="622.1" font-size="43" font-weight="normal" text-anchor="end" >15</text>
<text x="824.0" y="784.3" font-size="43" font-weight="normal" text-anchor="end" >20</text>
<text x="824.0" y="946.5" font-size="43" font-weight="normal" text-anchor="end" >25</text>
<text x="824.0" y="1108.6" font-size="43" font-weight="normal" text-anchor="end" >30</text>
<text x="432.0" y="41.2" font-size="51" font-weight="bold" text-anchor="middle" >Displacement (mm)</text>
<text x="1157.0" y="42.2" font-size="51" font-weight="bold" text-anchor="middle" >Displacement (mm)</text>
<text transform="translate(46,528.5) rotate(-90)" font-size="51" font-weight="bold" text-anchor="middle">Depth (m)</text>
<text transform="translate(745,518) rotate(-90)" font-size="51" font-weight="bold" text-anchor="middle">Depth (m)</text>
<text x="22.0" y="1178.7" font-size="38" font-weight="bold" text-anchor="start" letter-spacing="1.9">Numerical simulation displacement monitoring</text>
<text x="921.0" y="1178.7" font-size="38" font-weight="bold" text-anchor="start" letter-spacing="1.9">Field displacement monitoring</text>
<text x="244.5" y="907.1" font-size="36" xml:space="preserve">Slip zone  A</text>
<text x="244.5" y="951.6" font-size="36" xml:space="preserve">Slip zone  B</text>
<text x="244.5" y="996.1" font-size="36" xml:space="preserve">Slip zone  C</text>
<text x="960" y="834.9" font-size="35">2019/12/01</text>
<text x="960" y="878.2" font-size="35">2019/3/5</text>
<text x="960" y="921.6" font-size="35">2019/6/18</text>
<text x="960" y="965.0" font-size="35">2019/10/31</text>
<text x="960" y="1008.3" font-size="35">2019/12/17</text>
<text x="960" y="1051.7" font-size="35">2020/7/27</text>
<text x="960" y="1095.0" font-size="35">2020/10/2</text>
</svg>
</body></html>
